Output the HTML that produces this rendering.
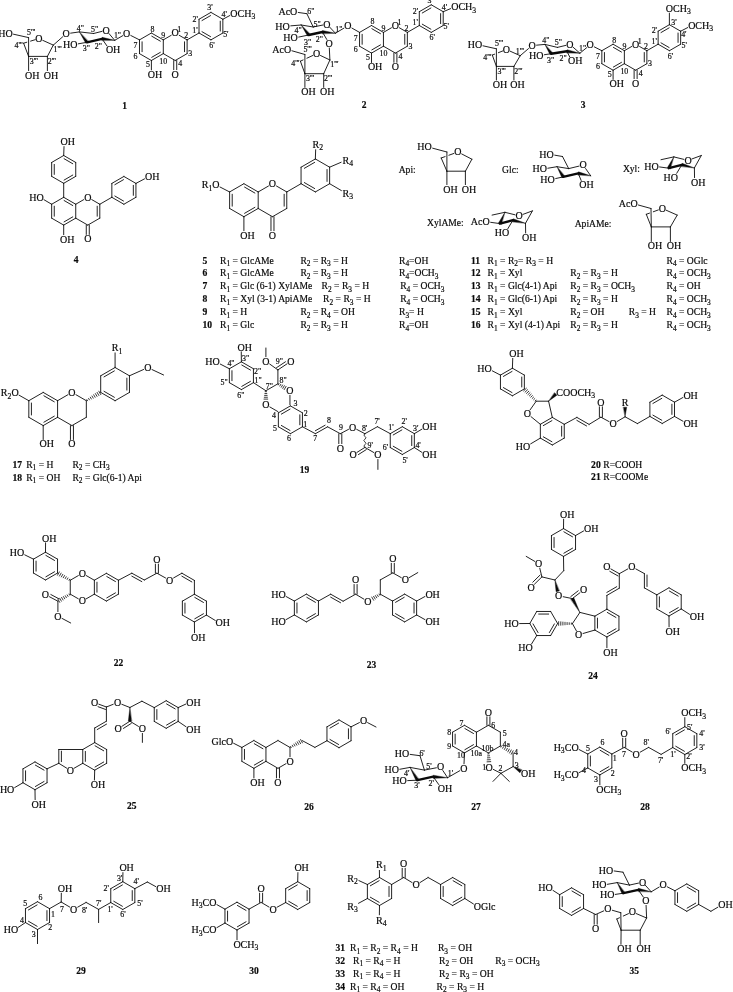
<!DOCTYPE html>
<html><head><meta charset="utf-8"><title>Structures</title>
<style>html,body{margin:0;padding:0;background:#fff;}svg{display:block;filter:grayscale(1);}text{white-space:pre;}</style></head>
<body>
<svg width="733" height="992" viewBox="0 0 733 992" xml:space="preserve" font-family="'Liberation Serif', serif" fill="#0a0a0a" stroke="#0a0a0a" stroke-linecap="round" stroke-width="0.9">
<g stroke="#0a0a0a" stroke-width="0.18">
<text x="171.61" y="36.35" font-size="10.00">O</text>
<text x="171.61" y="77.60" font-size="10.00">O</text>
<text x="150.53" y="31.81" font-size="7.90">8</text>
<text x="161.33" y="38.08" font-size="7.90">9</text>
<text x="159.36" y="63.53" font-size="7.90">10</text>
<text x="146.03" y="67.41" font-size="7.90">5</text>
<text x="133.62" y="58.93" font-size="7.90">6</text>
<text x="133.62" y="48.18" font-size="7.90">7</text>
<text x="177.24" y="32.41" font-size="7.90">1</text>
<text x="184.15" y="38.48" font-size="7.90">2</text>
<text x="188.15" y="56.03" font-size="7.90">3</text>
<text x="178.24" y="66.01" font-size="7.90">4</text>
<text x="147.79" y="77.85" font-size="10.00">OH</text>
<text x="230.27" y="16.73" font-size="10.00">OCH</text><text x="251.39" y="19.23" font-size="7.70">3</text>
<text x="192.35" y="32.61" font-size="7.90">1'</text>
<text x="192.55" y="21.86" font-size="7.90">2'</text>
<text x="207.25" y="10.48" font-size="7.90">3'</text>
<text x="221.46" y="17.46" font-size="7.90">4'</text>
<text x="223.16" y="36.61" font-size="7.90">5'</text>
<text x="209.25" y="47.88" font-size="7.90">6'</text>
<text x="122.33" y="109.20" font-size="9.50" font-weight="bold">1</text>
<text x="123.09" y="36.75" font-size="10.00">O</text>
<text x="102.59" y="33.65" font-size="10.00">O</text>
<text x="62.97" y="47.95" font-size="10.00">HO</text>
<text x="105.89" y="52.95" font-size="10.00">OH</text>
<text x="62.49" y="37.15" font-size="10.00">O</text>
<text x="76.71" y="30.61" font-size="7.90">4"</text>
<text x="91.01" y="31.51" font-size="7.90">5"</text>
<text x="113.91" y="38.31" font-size="7.90">1"</text>
<text x="94.71" y="49.01" font-size="7.90">2"</text>
<text x="82.81" y="51.41" font-size="7.90">3"</text>
<text x="35.29" y="41.95" font-size="10.00">O</text>
<text x="-1.83" y="36.55" font-size="10.00">HO</text>
<text x="24.99" y="78.55" font-size="10.00">OH</text>
<text x="43.79" y="78.55" font-size="10.00">OH</text>
<text x="27.09" y="34.61" font-size="7.90">5'''</text>
<text x="14.49" y="47.71" font-size="7.90">4'''</text>
<text x="29.69" y="63.51" font-size="7.90">3'''</text>
<text x="47.69" y="63.51" font-size="7.90">2'''</text>
<text x="53.59" y="51.91" font-size="7.90">1'''</text>
<text x="391.79" y="28.85" font-size="10.00">O</text>
<text x="391.79" y="70.25" font-size="10.00">O</text>
<text x="370.62" y="24.31" font-size="7.90">8</text>
<text x="381.48" y="30.61" font-size="7.90">9</text>
<text x="379.50" y="56.11" font-size="7.90">10</text>
<text x="366.12" y="60.01" font-size="7.90">5</text>
<text x="353.67" y="51.51" font-size="7.90">6</text>
<text x="353.67" y="40.71" font-size="7.90">7</text>
<text x="397.43" y="24.91" font-size="7.90">1</text>
<text x="404.38" y="31.01" font-size="7.90">2</text>
<text x="408.38" y="48.61" font-size="7.90">3</text>
<text x="398.43" y="58.61" font-size="7.90">4</text>
<text x="367.89" y="70.45" font-size="10.00">OH</text>
<text x="451.20" y="10.25" font-size="10.00">OCH</text><text x="472.31" y="12.75" font-size="7.70">3</text>
<text x="412.62" y="25.11" font-size="7.90">1'</text>
<text x="412.82" y="14.31" font-size="7.90">2'</text>
<text x="427.57" y="3.41" font-size="7.90">3'</text>
<text x="441.82" y="9.91" font-size="7.90">4'</text>
<text x="443.52" y="29.11" font-size="7.90">5'</text>
<text x="429.57" y="40.41" font-size="7.90">6'</text>
<text x="361.73" y="108.30" font-size="9.50" font-weight="bold">2</text>
<text x="344.29" y="29.15" font-size="10.00">O</text>
<text x="323.29" y="27.55" font-size="10.00">O</text>
<text x="278.43" y="15.15" font-size="10.00">AcO</text>
<text x="275.37" y="29.55" font-size="10.00">HO</text>
<text x="283.37" y="41.35" font-size="10.00">HO</text>
<text x="325.49" y="46.75" font-size="10.00">O</text>
<text x="307.31" y="14.31" font-size="7.90">6"</text>
<text x="313.61" y="26.61" font-size="7.90">5"</text>
<text x="335.31" y="32.01" font-size="7.90">1"</text>
<text x="294.61" y="33.01" font-size="7.90">4"</text>
<text x="304.11" y="44.61" font-size="7.90">3"</text>
<text x="315.81" y="42.01" font-size="7.90">2"</text>
<text x="313.09" y="57.05" font-size="10.00">O</text>
<text x="272.23" y="52.85" font-size="10.00">AcO</text>
<text x="301.29" y="95.35" font-size="10.00">OH</text>
<text x="320.09" y="95.35" font-size="10.00">OH</text>
<text x="303.39" y="51.51" font-size="7.90">5'''</text>
<text x="291.29" y="65.71" font-size="7.90">4'''</text>
<text x="305.99" y="80.81" font-size="7.90">3'''</text>
<text x="323.99" y="80.81" font-size="7.90">2'''</text>
<text x="330.19" y="66.81" font-size="7.90">1'''</text>
<text x="632.01" y="47.55" font-size="10.00">O</text>
<text x="632.01" y="86.55" font-size="10.00">O</text>
<text x="612.23" y="43.01" font-size="7.90">8</text>
<text x="622.38" y="48.91" font-size="7.90">9</text>
<text x="620.41" y="73.61" font-size="7.90">10</text>
<text x="607.73" y="77.11" font-size="7.90">5</text>
<text x="595.97" y="69.01" font-size="7.90">6</text>
<text x="595.97" y="59.01" font-size="7.90">7</text>
<text x="637.64" y="43.61" font-size="7.90">1</text>
<text x="643.90" y="49.31" font-size="7.90">2</text>
<text x="647.90" y="66.11" font-size="7.90">3</text>
<text x="638.64" y="75.71" font-size="7.90">4</text>
<text x="609.49" y="87.35" font-size="10.00">OH</text>
<text x="665.78" y="11.85" font-size="10.00">OCH</text><text x="686.90" y="14.35" font-size="7.70">3</text>
<text x="688.14" y="28.85" font-size="10.00">OCH</text><text x="709.25" y="31.35" font-size="7.70">3</text>
<text x="651.45" y="43.81" font-size="7.90">1'</text>
<text x="651.65" y="32.81" font-size="7.90">2'</text>
<text x="671.21" y="24.81" font-size="7.90">3'</text>
<text x="681.16" y="37.31" font-size="7.90">4'</text>
<text x="681.46" y="47.81" font-size="7.90">5'</text>
<text x="667.71" y="58.71" font-size="7.90">6'</text>
<text x="580.73" y="108.20" font-size="9.50" font-weight="bold">3</text>
<text x="586.59" y="48.15" font-size="10.00">O</text>
<text x="566.29" y="47.75" font-size="10.00">O</text>
<text x="529.07" y="58.75" font-size="10.00">HO</text>
<text x="567.99" y="64.15" font-size="10.00">OH</text>
<text x="528.39" y="48.95" font-size="10.00">O</text>
<text x="542.21" y="43.11" font-size="7.90">4"</text>
<text x="554.81" y="45.41" font-size="7.90">5"</text>
<text x="579.11" y="51.21" font-size="7.90">1"</text>
<text x="559.61" y="61.41" font-size="7.90">2"</text>
<text x="547.01" y="62.81" font-size="7.90">3"</text>
<text x="502.79" y="52.85" font-size="10.00">O</text>
<text x="467.67" y="48.15" font-size="10.00">HO</text>
<text x="492.79" y="87.95" font-size="10.00">OH</text>
<text x="510.29" y="87.95" font-size="10.00">OH</text>
<text x="494.89" y="45.81" font-size="7.90">5'''</text>
<text x="483.19" y="59.61" font-size="7.90">4'''</text>
<text x="497.49" y="73.51" font-size="7.90">3'''</text>
<text x="514.19" y="73.51" font-size="7.90">2'''</text>
<text x="515.79" y="53.71" font-size="7.90">1'''</text>
<text x="84.17" y="200.65" font-size="10.00">O</text>
<text x="84.17" y="242.35" font-size="10.00">O</text>
<text x="60.09" y="242.65" font-size="10.00">OH</text>
<text x="29.17" y="200.75" font-size="10.00">HO</text>
<text x="60.59" y="145.35" font-size="10.00">OH</text>
<text x="144.99" y="180.05" font-size="10.00">OH</text>
<text x="73.83" y="262.60" font-size="9.50" font-weight="bold">4</text>
<text x="268.87" y="187.05" font-size="10.00">O</text>
<text x="268.87" y="238.65" font-size="10.00">O</text>
<text x="240.29" y="238.65" font-size="10.00">OH</text>
<text x="201.77" y="188.25" font-size="10.00">R</text><text x="208.44" y="190.75" font-size="7.70">1</text><text x="212.29" y="188.25" font-size="10.00">O</text>
<text x="312.51" y="147.85" font-size="10.00">R</text><text x="319.18" y="150.35" font-size="7.70">2</text>
<text x="342.56" y="163.55" font-size="10.00">R</text><text x="349.24" y="166.05" font-size="7.70">4</text>
<text x="342.56" y="196.55" font-size="10.00">R</text><text x="349.24" y="199.05" font-size="7.70">3</text>
<text x="202.50" y="263.80" font-size="9.60" font-weight="bold">5</text>
<text x="220.00" y="263.80" font-size="9.60">R</text><text x="226.40" y="266.20" font-size="7.39">1</text><text x="232.50" y="263.80" font-size="9.60">= GlcAMe</text>
<text x="300.40" y="263.80" font-size="9.60">R</text><text x="306.80" y="266.20" font-size="7.39">2</text><text x="312.90" y="263.80" font-size="9.60">= R</text><text x="327.12" y="266.20" font-size="7.39">3</text><text x="333.21" y="263.80" font-size="9.60">= H</text>
<text x="399.00" y="263.80" font-size="9.60">R</text><text x="405.40" y="266.20" font-size="7.39">4</text><text x="409.10" y="263.80" font-size="9.60">=OH</text>
<text x="202.50" y="276.40" font-size="9.60" font-weight="bold">6</text>
<text x="220.00" y="276.40" font-size="9.60">R</text><text x="226.40" y="278.80" font-size="7.39">1</text><text x="232.50" y="276.40" font-size="9.60">= GlcAMe</text>
<text x="300.40" y="276.40" font-size="9.60">R</text><text x="306.80" y="278.80" font-size="7.39">2</text><text x="312.90" y="276.40" font-size="9.60">= R</text><text x="327.12" y="278.80" font-size="7.39">3</text><text x="333.21" y="276.40" font-size="9.60">= H</text>
<text x="399.00" y="276.40" font-size="9.60">R</text><text x="405.40" y="278.80" font-size="7.39">4</text><text x="409.10" y="276.40" font-size="9.60">=OCH</text><text x="434.78" y="278.80" font-size="7.39">3</text>
<text x="202.50" y="289.10" font-size="9.60" font-weight="bold">7</text>
<text x="220.00" y="289.10" font-size="9.60">R</text><text x="226.40" y="291.50" font-size="7.39">1</text><text x="232.50" y="289.10" font-size="9.60">= Glc (6-1) XylAMe</text>
<text x="321.60" y="289.10" font-size="9.60">R</text><text x="328.00" y="291.50" font-size="7.39">2</text><text x="334.10" y="289.10" font-size="9.60">= R</text><text x="348.32" y="291.50" font-size="7.39">3</text><text x="354.41" y="289.10" font-size="9.60">= H</text>
<text x="400.20" y="289.10" font-size="9.60">R</text><text x="406.60" y="291.50" font-size="7.39">4</text><text x="412.70" y="289.10" font-size="9.60">= OCH</text><text x="440.78" y="291.50" font-size="7.39">3</text>
<text x="202.50" y="302.10" font-size="9.60" font-weight="bold">8</text>
<text x="220.00" y="302.10" font-size="9.60">R</text><text x="226.40" y="304.50" font-size="7.39">1</text><text x="232.50" y="302.10" font-size="9.60">= Xyl (3-1) ApiAMe</text>
<text x="323.10" y="302.10" font-size="9.60">R</text><text x="329.50" y="304.50" font-size="7.39">2</text><text x="335.60" y="302.10" font-size="9.60">= R</text><text x="349.82" y="304.50" font-size="7.39">3</text><text x="355.91" y="302.10" font-size="9.60">= H</text>
<text x="400.20" y="302.10" font-size="9.60">R</text><text x="406.60" y="304.50" font-size="7.39">4</text><text x="412.70" y="302.10" font-size="9.60">= OCH</text><text x="440.78" y="304.50" font-size="7.39">3</text>
<text x="202.50" y="315.20" font-size="9.60" font-weight="bold">9</text>
<text x="220.00" y="315.20" font-size="9.60">R</text><text x="226.40" y="317.60" font-size="7.39">1</text><text x="232.50" y="315.20" font-size="9.60">= H</text>
<text x="300.40" y="315.20" font-size="9.60">R</text><text x="306.80" y="317.60" font-size="7.39">2</text><text x="312.90" y="315.20" font-size="9.60">= R</text><text x="327.12" y="317.60" font-size="7.39">4</text><text x="333.21" y="315.20" font-size="9.60">= OH</text>
<text x="399.00" y="315.20" font-size="9.60">R</text><text x="405.40" y="317.60" font-size="7.39">3</text><text x="409.10" y="315.20" font-size="9.60">= H</text>
<text x="202.50" y="328.20" font-size="9.60" font-weight="bold">10</text>
<text x="220.00" y="328.20" font-size="9.60">R</text><text x="226.40" y="330.60" font-size="7.39">1</text><text x="232.50" y="328.20" font-size="9.60">= Glc</text>
<text x="300.40" y="328.20" font-size="9.60">R</text><text x="306.80" y="330.60" font-size="7.39">2</text><text x="312.90" y="328.20" font-size="9.60">= R</text><text x="327.12" y="330.60" font-size="7.39">3</text><text x="333.21" y="328.20" font-size="9.60">= H</text>
<text x="399.00" y="328.20" font-size="9.60">R</text><text x="405.40" y="330.60" font-size="7.39">4</text><text x="409.10" y="328.20" font-size="9.60">=OH</text>
<text x="470.90" y="263.80" font-size="9.60" font-weight="bold">11</text>
<text x="487.60" y="263.80" font-size="9.60">R</text><text x="494.00" y="266.20" font-size="7.39">1</text><text x="500.10" y="263.80" font-size="9.60">= R</text><text x="514.32" y="266.20" font-size="7.39">2</text><text x="518.01" y="263.80" font-size="9.60">= R</text><text x="532.23" y="266.20" font-size="7.39">3</text><text x="538.33" y="263.80" font-size="9.60">= H</text>
<text x="666.50" y="263.80" font-size="9.60">R</text><text x="672.90" y="266.20" font-size="7.39">4</text><text x="679.00" y="263.80" font-size="9.60">= OGlc</text>
<text x="470.90" y="276.40" font-size="9.60" font-weight="bold">12</text>
<text x="487.60" y="276.40" font-size="9.60">R</text><text x="494.00" y="278.80" font-size="7.39">1</text><text x="500.10" y="276.40" font-size="9.60">= Xyl</text>
<text x="570.30" y="276.40" font-size="9.60">R</text><text x="576.70" y="278.80" font-size="7.39">2</text><text x="582.80" y="276.40" font-size="9.60">= R</text><text x="597.02" y="278.80" font-size="7.39">3</text><text x="603.11" y="276.40" font-size="9.60">= H</text>
<text x="666.50" y="276.40" font-size="9.60">R</text><text x="672.90" y="278.80" font-size="7.39">4</text><text x="679.00" y="276.40" font-size="9.60">= OCH</text><text x="707.08" y="278.80" font-size="7.39">3</text>
<text x="470.90" y="289.10" font-size="9.60" font-weight="bold">13</text>
<text x="487.60" y="289.10" font-size="9.60">R</text><text x="494.00" y="291.50" font-size="7.39">1</text><text x="500.10" y="289.10" font-size="9.60">= Glc(4-1) Api</text>
<text x="570.30" y="289.10" font-size="9.60">R</text><text x="576.70" y="291.50" font-size="7.39">2</text><text x="582.80" y="289.10" font-size="9.60">= R</text><text x="597.02" y="291.50" font-size="7.39">3</text><text x="603.11" y="289.10" font-size="9.60">= OCH</text><text x="631.20" y="291.50" font-size="7.39">3</text>
<text x="666.50" y="289.10" font-size="9.60">R</text><text x="672.90" y="291.50" font-size="7.39">4</text><text x="679.00" y="289.10" font-size="9.60">= OH</text>
<text x="470.90" y="302.10" font-size="9.60" font-weight="bold">14</text>
<text x="487.60" y="302.10" font-size="9.60">R</text><text x="494.00" y="304.50" font-size="7.39">1</text><text x="500.10" y="302.10" font-size="9.60">= Glc(6-1) Api</text>
<text x="570.30" y="302.10" font-size="9.60">R</text><text x="576.70" y="304.50" font-size="7.39">2</text><text x="582.80" y="302.10" font-size="9.60">= R</text><text x="597.02" y="304.50" font-size="7.39">3</text><text x="603.11" y="302.10" font-size="9.60">= H</text>
<text x="666.50" y="302.10" font-size="9.60">R</text><text x="672.90" y="304.50" font-size="7.39">4</text><text x="679.00" y="302.10" font-size="9.60">= OCH</text><text x="707.08" y="304.50" font-size="7.39">3</text>
<text x="470.90" y="315.20" font-size="9.60" font-weight="bold">15</text>
<text x="487.60" y="315.20" font-size="9.60">R</text><text x="494.00" y="317.60" font-size="7.39">1</text><text x="500.10" y="315.20" font-size="9.60">= Xyl</text>
<text x="570.30" y="315.20" font-size="9.60">R</text><text x="576.70" y="317.60" font-size="7.39">2</text><text x="582.80" y="315.20" font-size="9.60">= OH</text>
<text x="628.80" y="315.20" font-size="9.60">R</text><text x="635.20" y="317.60" font-size="7.39">3</text><text x="641.30" y="315.20" font-size="9.60">= H</text>
<text x="666.50" y="315.20" font-size="9.60">R</text><text x="672.90" y="317.60" font-size="7.39">4</text><text x="679.00" y="315.20" font-size="9.60">= OCH</text><text x="707.08" y="317.60" font-size="7.39">3</text>
<text x="470.90" y="328.20" font-size="9.60" font-weight="bold">16</text>
<text x="487.60" y="328.20" font-size="9.60">R</text><text x="494.00" y="330.60" font-size="7.39">1</text><text x="500.10" y="328.20" font-size="9.60">= Xyl (4-1) Api</text>
<text x="570.30" y="328.20" font-size="9.60">R</text><text x="576.70" y="330.60" font-size="7.39">2</text><text x="582.80" y="328.20" font-size="9.60">= R</text><text x="597.02" y="330.60" font-size="7.39">3</text><text x="603.11" y="328.20" font-size="9.60">= H</text>
<text x="666.50" y="328.20" font-size="9.60">R</text><text x="672.90" y="330.60" font-size="7.39">4</text><text x="679.00" y="328.20" font-size="9.60">= OCH</text><text x="707.08" y="330.60" font-size="7.39">3</text>
<text x="398.70" y="173.20" font-size="9.60">Api:</text>
<text x="454.29" y="155.35" font-size="10.00">O</text>
<text x="417.37" y="150.35" font-size="10.00">HO</text>
<text x="443.29" y="192.55" font-size="10.00">OH</text>
<text x="461.79" y="192.55" font-size="10.00">OH</text>
<text x="574.70" y="227.00" font-size="9.60">ApiAMe:</text>
<text x="658.69" y="211.85" font-size="10.00">O</text>
<text x="618.73" y="207.15" font-size="10.00">AcO</text>
<text x="647.69" y="249.45" font-size="10.00">OH</text>
<text x="666.79" y="249.45" font-size="10.00">OH</text>
<text x="622.90" y="172.20" font-size="9.60">Xyl:</text>
<text x="684.39" y="163.75" font-size="10.00">O</text>
<text x="644.17" y="169.65" font-size="10.00">HO</text>
<text x="663.57" y="180.55" font-size="10.00">HO</text>
<text x="690.99" y="185.55" font-size="10.00">OH</text>
<text x="427.00" y="225.60" font-size="9.60">XylAMe:</text>
<text x="515.49" y="219.15" font-size="10.00">O</text>
<text x="470.83" y="225.05" font-size="10.00">AcO</text>
<text x="494.67" y="235.95" font-size="10.00">HO</text>
<text x="522.09" y="240.95" font-size="10.00">OH</text>
<text x="502.10" y="172.70" font-size="9.60">Glc:</text>
<text x="579.59" y="168.45" font-size="10.00">O</text>
<text x="539.37" y="157.75" font-size="10.00">HO</text>
<text x="532.47" y="172.35" font-size="10.00">HO</text>
<text x="540.37" y="182.85" font-size="10.00">HO</text>
<text x="579.29" y="188.05" font-size="10.00">OH</text>
<text x="68.34" y="395.75" font-size="10.00">O</text>
<text x="68.34" y="447.45" font-size="10.00">O</text>
<text x="39.59" y="447.45" font-size="10.00">OH</text>
<text x="0.87" y="396.25" font-size="10.00">R</text><text x="7.54" y="398.75" font-size="7.70">2</text><text x="11.39" y="396.25" font-size="10.00">O</text>
<text x="111.75" y="351.05" font-size="10.00">R</text><text x="118.42" y="353.55" font-size="7.70">1</text>
<text x="144.19" y="370.95" font-size="10.00">O</text>
<text x="12.50" y="468.00" font-size="9.60" font-weight="bold">17</text>
<text x="26.20" y="468.00" font-size="9.60">R</text><text x="32.60" y="470.40" font-size="7.39">1</text><text x="38.70" y="468.00" font-size="9.60">= H</text>
<text x="72.40" y="468.00" font-size="9.60">R</text><text x="78.80" y="470.40" font-size="7.39">2</text><text x="84.90" y="468.00" font-size="9.60">= CH</text><text x="106.05" y="470.40" font-size="7.39">3</text>
<text x="12.50" y="480.60" font-size="9.60" font-weight="bold">18</text>
<text x="26.20" y="480.60" font-size="9.60">R</text><text x="32.60" y="483.00" font-size="7.39">1</text><text x="38.70" y="480.60" font-size="9.60">= OH</text>
<text x="72.40" y="480.60" font-size="9.60">R</text><text x="78.80" y="483.00" font-size="7.39">2</text><text x="84.90" y="480.60" font-size="9.60">= Glc(6-1) Api</text>
<text x="237.59" y="350.55" font-size="10.00">OH</text>
<text x="205.37" y="365.35" font-size="10.00">HO</text>
<text x="286.33" y="394.10" font-size="10.00">O</text>
<text x="262.25" y="408.00" font-size="10.00">O</text>
<text x="287.29" y="364.65" font-size="10.00">O</text>
<text x="262.29" y="364.65" font-size="10.00">O</text>
<text x="336.69" y="451.55" font-size="10.00">O</text>
<text x="348.99" y="430.55" font-size="10.00">O</text>
<text x="349.39" y="458.25" font-size="10.00">O</text>
<text x="374.29" y="458.25" font-size="10.00">O</text>
<text x="422.29" y="430.15" font-size="10.00">OH</text>
<text x="422.29" y="458.25" font-size="10.00">OH</text>
<text x="242.01" y="360.61" font-size="7.90">3"</text>
<text x="227.41" y="366.31" font-size="7.90">4"</text>
<text x="254.01" y="373.81" font-size="7.90">2"</text>
<text x="254.61" y="382.61" font-size="7.90">1"</text>
<text x="220.61" y="385.01" font-size="7.90">5"</text>
<text x="237.31" y="397.51" font-size="7.90">6"</text>
<text x="265.71" y="388.81" font-size="7.90">7"</text>
<text x="279.61" y="382.61" font-size="7.90">8"</text>
<text x="275.81" y="363.81" font-size="7.90">9"</text>
<text x="293.42" y="406.31" font-size="7.90">3</text>
<text x="303.82" y="415.51" font-size="7.90">2</text>
<text x="272.12" y="418.01" font-size="7.90">4</text>
<text x="272.92" y="431.21" font-size="7.90">5</text>
<text x="287.12" y="440.51" font-size="7.90">6</text>
<text x="303.32" y="426.81" font-size="7.90">1</text>
<text x="313.32" y="441.41" font-size="7.90">7</text>
<text x="327.02" y="423.21" font-size="7.90">8</text>
<text x="339.02" y="430.01" font-size="7.90">9</text>
<text x="361.91" y="430.61" font-size="7.90">8'</text>
<text x="374.41" y="423.81" font-size="7.90">7'</text>
<text x="388.21" y="430.01" font-size="7.90">1'</text>
<text x="401.61" y="423.81" font-size="7.90">2'</text>
<text x="413.11" y="430.61" font-size="7.90">3'</text>
<text x="415.41" y="448.01" font-size="7.90">4'</text>
<text x="402.41" y="462.51" font-size="7.90">5'</text>
<text x="382.71" y="450.01" font-size="7.90">6'</text>
<text x="367.61" y="448.01" font-size="7.90">9'</text>
<text x="299.85" y="473.00" font-size="9.50" font-weight="bold">19</text>
<text x="509.29" y="357.15" font-size="10.00">OH</text>
<text x="477.37" y="372.05" font-size="10.00">HO</text>
<text x="523.79" y="417.05" font-size="10.00">O</text>
<text x="556.30" y="395.80" font-size="10.00">COOCH</text><text x="591.31" y="398.30" font-size="7.70">3</text>
<text x="515.87" y="449.55" font-size="10.00">HO</text>
<text x="597.29" y="405.55" font-size="10.00">O</text>
<text x="609.59" y="427.15" font-size="10.00">O</text>
<text x="621.76" y="405.55" font-size="10.00">R</text>
<text x="683.39" y="398.55" font-size="10.00">OH</text>
<text x="683.39" y="426.85" font-size="10.00">OH</text>
<text x="591.10" y="468.00" font-size="9.60" font-weight="bold">20</text>
<text x="603.30" y="468.00" font-size="9.60">R=COOH</text>
<text x="591.10" y="480.00" font-size="9.60" font-weight="bold">21</text>
<text x="603.30" y="480.00" font-size="9.60">R=COOMe</text>
<text x="41.99" y="541.55" font-size="10.00">OH</text>
<text x="9.77" y="556.15" font-size="10.00">HO</text>
<text x="78.69" y="576.65" font-size="10.00">O</text>
<text x="78.69" y="604.45" font-size="10.00">O</text>
<text x="41.79" y="597.95" font-size="10.00">O</text>
<text x="54.29" y="619.55" font-size="10.00">O</text>
<text x="153.29" y="562.85" font-size="10.00">O</text>
<text x="165.99" y="583.55" font-size="10.00">O</text>
<text x="215.59" y="626.25" font-size="10.00">OH</text>
<text x="190.99" y="640.75" font-size="10.00">OH</text>
<text x="113.85" y="665.60" font-size="9.50" font-weight="bold">22</text>
<text x="271.17" y="597.65" font-size="10.00">HO</text>
<text x="271.17" y="625.25" font-size="10.00">HO</text>
<text x="351.99" y="583.25" font-size="10.00">O</text>
<text x="364.29" y="604.85" font-size="10.00">O</text>
<text x="389.19" y="562.05" font-size="10.00">O</text>
<text x="401.69" y="583.25" font-size="10.00">O</text>
<text x="425.39" y="597.65" font-size="10.00">OH</text>
<text x="425.39" y="625.25" font-size="10.00">OH</text>
<text x="366.85" y="668.00" font-size="9.50" font-weight="bold">23</text>
<text x="560.09" y="517.95" font-size="10.00">OH</text>
<text x="583.99" y="532.05" font-size="10.00">OH</text>
<text x="527.59" y="590.75" font-size="10.00">O</text>
<text x="535.09" y="567.05" font-size="10.00">O</text>
<text x="555.09" y="599.15" font-size="10.00">O</text>
<text x="579.99" y="593.25" font-size="10.00">O</text>
<text x="574.99" y="638.15" font-size="10.00">O</text>
<text x="603.29" y="655.65" font-size="10.00">OH</text>
<text x="504.17" y="626.95" font-size="10.00">HO</text>
<text x="518.37" y="651.15" font-size="10.00">HO</text>
<text x="603.29" y="570.05" font-size="10.00">O</text>
<text x="628.19" y="570.05" font-size="10.00">O</text>
<text x="689.79" y="620.15" font-size="10.00">OH</text>
<text x="665.49" y="634.75" font-size="10.00">OH</text>
<text x="588.15" y="679.00" font-size="9.50" font-weight="bold">24</text>
<text x="-0.13" y="793.25" font-size="10.00">HO</text>
<text x="31.59" y="807.55" font-size="10.00">OH</text>
<text x="66.69" y="773.75" font-size="10.00">O</text>
<text x="90.69" y="787.95" font-size="10.00">OH</text>
<text x="90.89" y="705.95" font-size="10.00">O</text>
<text x="113.89" y="705.95" font-size="10.00">O</text>
<text x="114.39" y="732.15" font-size="10.00">O</text>
<text x="138.79" y="732.15" font-size="10.00">O</text>
<text x="186.29" y="705.55" font-size="10.00">OH</text>
<text x="186.29" y="732.75" font-size="10.00">OH</text>
<text x="127.05" y="809.30" font-size="9.50" font-weight="bold">25</text>
<text x="286.40" y="764.70" font-size="10.00">O</text>
<text x="274.37" y="785.85" font-size="10.00">O</text>
<text x="211.45" y="744.55" font-size="10.00">GlcO</text>
<text x="250.29" y="785.85" font-size="10.00">OH</text>
<text x="359.89" y="723.85" font-size="10.00">O</text>
<text x="304.35" y="810.00" font-size="9.50" font-weight="bold">26</text>
<text x="484.79" y="715.55" font-size="10.00">O</text>
<text x="485.59" y="770.65" font-size="10.00">O</text>
<text x="521.09" y="777.15" font-size="10.00">OH</text>
<text x="460.19" y="771.75" font-size="10.00">O</text>
<text x="436.89" y="770.35" font-size="10.00">O</text>
<text x="394.77" y="757.15" font-size="10.00">HO</text>
<text x="384.47" y="773.45" font-size="10.00">HO</text>
<text x="392.27" y="784.15" font-size="10.00">HO</text>
<text x="437.79" y="791.65" font-size="10.00">OH</text>
<text x="459.52" y="726.01" font-size="7.90">7</text>
<text x="447.32" y="734.81" font-size="7.90">8</text>
<text x="447.32" y="749.21" font-size="7.90">9</text>
<text x="457.05" y="758.01" font-size="7.90">10</text>
<text x="470.50" y="755.81" font-size="7.90">10a</text>
<text x="481.57" y="751.11" font-size="7.90">10b</text>
<text x="491.22" y="728.11" font-size="7.90">6</text>
<text x="502.72" y="736.31" font-size="7.90">5</text>
<text x="502.57" y="746.81" font-size="7.90">4a</text>
<text x="514.02" y="755.31" font-size="7.90">4</text>
<text x="514.82" y="767.61" font-size="7.90">3</text>
<text x="498.42" y="771.21" font-size="7.90">2</text>
<text x="482.32" y="769.91" font-size="7.90">1</text>
<text x="447.71" y="776.31" font-size="7.90">1'</text>
<text x="419.41" y="755.61" font-size="7.90">6'</text>
<text x="426.31" y="769.41" font-size="7.90">5'</text>
<text x="404.11" y="776.11" font-size="7.90">4'</text>
<text x="414.21" y="788.01" font-size="7.90">3'</text>
<text x="428.61" y="785.51" font-size="7.90">2'</text>
<text x="471.35" y="809.80" font-size="9.50" font-weight="bold">27</text>
<text x="553.65" y="750.75" font-size="10.00">H</text><text x="560.87" y="753.25" font-size="7.70">3</text><text x="564.72" y="750.75" font-size="10.00">CO</text>
<text x="553.65" y="778.25" font-size="10.00">H</text><text x="560.87" y="780.75" font-size="7.70">3</text><text x="564.72" y="778.25" font-size="10.00">CO</text>
<text x="596.29" y="792.75" font-size="10.00">OCH</text><text x="617.40" y="795.25" font-size="7.70">3</text>
<text x="620.59" y="736.95" font-size="10.00">O</text>
<text x="632.59" y="757.75" font-size="10.00">O</text>
<text x="681.19" y="716.35" font-size="10.00">OCH</text><text x="702.30" y="718.85" font-size="7.70">3</text>
<text x="681.19" y="771.35" font-size="10.00">OCH</text><text x="702.30" y="773.85" font-size="7.70">3</text>
<text x="600.62" y="745.41" font-size="7.90">6</text>
<text x="586.02" y="751.11" font-size="7.90">5</text>
<text x="581.92" y="772.51" font-size="7.90">4</text>
<text x="594.02" y="782.01" font-size="7.90">3</text>
<text x="610.82" y="775.51" font-size="7.90">2</text>
<text x="612.82" y="761.31" font-size="7.90">1</text>
<text x="621.92" y="757.21" font-size="7.90">7</text>
<text x="643.61" y="745.41" font-size="7.90">8'</text>
<text x="657.91" y="763.21" font-size="7.90">7'</text>
<text x="670.31" y="757.21" font-size="7.90">1'</text>
<text x="665.41" y="733.61" font-size="7.90">6'</text>
<text x="687.01" y="729.61" font-size="7.90">5'</text>
<text x="699.31" y="736.31" font-size="7.90">4'</text>
<text x="699.31" y="750.01" font-size="7.90">3'</text>
<text x="686.21" y="758.81" font-size="7.90">2'</text>
<text x="640.15" y="809.80" font-size="9.50" font-weight="bold">28</text>
<text x="3.67" y="933.25" font-size="10.00">HO</text>
<text x="57.79" y="891.95" font-size="10.00">OH</text>
<text x="70.09" y="912.75" font-size="10.00">O</text>
<text x="119.39" y="871.35" font-size="10.00">OH</text>
<text x="156.19" y="892.15" font-size="10.00">OH</text>
<text x="38.62" y="900.31" font-size="7.90">6</text>
<text x="23.22" y="905.51" font-size="7.90">5</text>
<text x="20.02" y="923.01" font-size="7.90">4</text>
<text x="31.73" y="937.01" font-size="7.90">3</text>
<text x="48.23" y="930.01" font-size="7.90">2</text>
<text x="51.12" y="917.01" font-size="7.90">1</text>
<text x="60.12" y="912.21" font-size="7.90">7</text>
<text x="81.91" y="912.51" font-size="7.90">8'</text>
<text x="96.11" y="906.11" font-size="7.90">7'</text>
<text x="107.41" y="912.21" font-size="7.90">1'</text>
<text x="103.61" y="891.31" font-size="7.90">2'</text>
<text x="116.91" y="881.31" font-size="7.90">3'</text>
<text x="133.61" y="884.41" font-size="7.90">4'</text>
<text x="137.31" y="905.51" font-size="7.90">5'</text>
<text x="120.31" y="917.21" font-size="7.90">6'</text>
<text x="76.35" y="973.80" font-size="9.50" font-weight="bold">29</text>
<text x="191.55" y="905.75" font-size="10.00">H</text><text x="198.77" y="908.25" font-size="7.70">3</text><text x="202.62" y="905.75" font-size="10.00">CO</text>
<text x="191.55" y="933.25" font-size="10.00">H</text><text x="198.77" y="935.75" font-size="7.70">3</text><text x="202.62" y="933.25" font-size="10.00">CO</text>
<text x="233.39" y="947.75" font-size="10.00">OCH</text><text x="254.50" y="950.25" font-size="7.70">3</text>
<text x="257.49" y="891.95" font-size="10.00">O</text>
<text x="269.39" y="912.75" font-size="10.00">O</text>
<text x="294.39" y="871.35" font-size="10.00">OH</text>
<text x="249.35" y="973.80" font-size="9.50" font-weight="bold">30</text>
<text x="375.96" y="868.35" font-size="10.00">R</text><text x="382.64" y="870.85" font-size="7.70">1</text>
<text x="347.26" y="881.55" font-size="10.00">R</text><text x="353.94" y="884.05" font-size="7.70">2</text>
<text x="347.26" y="909.75" font-size="10.00">R</text><text x="353.94" y="912.25" font-size="7.70">3</text>
<text x="375.96" y="923.55" font-size="10.00">R</text><text x="382.64" y="926.05" font-size="7.70">4</text>
<text x="400.09" y="867.05" font-size="10.00">O</text>
<text x="412.49" y="888.35" font-size="10.00">O</text>
<text x="473.69" y="909.75" font-size="10.00">OGlc</text>
<text x="335.50" y="951.10" font-size="9.60" font-weight="bold">31</text>
<text x="350.00" y="951.10" font-size="9.60">R</text><text x="356.40" y="953.50" font-size="7.39">1</text><text x="362.50" y="951.10" font-size="9.60">= R</text><text x="376.72" y="953.50" font-size="7.39">2</text><text x="382.81" y="951.10" font-size="9.60">= R</text><text x="397.03" y="953.50" font-size="7.39">4</text><text x="403.13" y="951.10" font-size="9.60">= H</text>
<text x="437.90" y="951.10" font-size="9.60">R</text><text x="444.30" y="953.50" font-size="7.39">3</text><text x="450.40" y="951.10" font-size="9.60">= OH</text>
<text x="335.50" y="963.60" font-size="9.60" font-weight="bold">32</text>
<text x="353.00" y="963.60" font-size="9.60">R</text><text x="359.40" y="966.00" font-size="7.39">1</text><text x="365.50" y="963.60" font-size="9.60">= R</text><text x="379.72" y="966.00" font-size="7.39">4</text><text x="385.81" y="963.60" font-size="9.60">= H</text>
<text x="439.10" y="963.60" font-size="9.60">R</text><text x="445.50" y="966.00" font-size="7.39">2</text><text x="451.60" y="963.60" font-size="9.60">= OH</text>
<text x="495.30" y="963.60" font-size="9.60">R</text><text x="501.70" y="966.00" font-size="7.39">3</text><text x="507.80" y="963.60" font-size="9.60">= OCH</text><text x="535.88" y="966.00" font-size="7.39">3</text>
<text x="335.50" y="976.80" font-size="9.60" font-weight="bold">33</text>
<text x="353.00" y="976.80" font-size="9.60">R</text><text x="359.40" y="979.20" font-size="7.39">1</text><text x="365.50" y="976.80" font-size="9.60">= R</text><text x="379.72" y="979.20" font-size="7.39">4</text><text x="385.81" y="976.80" font-size="9.60">= H</text>
<text x="439.10" y="976.80" font-size="9.60">R</text><text x="445.50" y="979.20" font-size="7.39">2</text><text x="451.60" y="976.80" font-size="9.60">= R</text><text x="465.82" y="979.20" font-size="7.39">3</text><text x="471.91" y="976.80" font-size="9.60">= OH</text>
<text x="335.50" y="990.00" font-size="9.60" font-weight="bold">34</text>
<text x="350.00" y="990.00" font-size="9.60">R</text><text x="356.40" y="992.40" font-size="7.39">1</text><text x="362.50" y="990.00" font-size="9.60">= R</text><text x="376.72" y="992.40" font-size="7.39">4</text><text x="382.81" y="990.00" font-size="9.60">= OH</text>
<text x="436.60" y="990.00" font-size="9.60">R</text><text x="443.00" y="992.40" font-size="7.39">2</text><text x="449.10" y="990.00" font-size="9.60">= R</text><text x="463.32" y="992.40" font-size="7.39">3</text><text x="469.41" y="990.00" font-size="9.60">= H</text>
<text x="538.27" y="891.25" font-size="10.00">HO</text>
<text x="592.09" y="932.15" font-size="10.00">O</text>
<text x="604.29" y="912.35" font-size="10.00">O</text>
<text x="628.69" y="915.25" font-size="10.00">O</text>
<text x="617.29" y="952.25" font-size="10.00">OH</text>
<text x="636.59" y="952.45" font-size="10.00">OH</text>
<text x="659.49" y="888.05" font-size="10.00">O</text>
<text x="638.99" y="885.55" font-size="10.00">O</text>
<text x="598.77" y="873.65" font-size="10.00">HO</text>
<text x="592.07" y="888.45" font-size="10.00">HO</text>
<text x="599.97" y="898.45" font-size="10.00">HO</text>
<text x="642.29" y="904.15" font-size="10.00">O</text>
<text x="718.19" y="908.25" font-size="10.00">OH</text>
<text x="629.45" y="973.80" font-size="9.50" font-weight="bold">35</text>
</g>
<g>
<line x1="151.40" y1="33.00" x2="163.31" y2="39.88" stroke-width="0.9"/>
<line x1="151.77" y1="36.21" x2="160.34" y2="41.16" stroke-width="0.9"/>
<line x1="163.31" y1="39.88" x2="163.31" y2="53.62" stroke-width="0.9"/>
<line x1="163.31" y1="53.62" x2="151.40" y2="60.50" stroke-width="0.9"/>
<line x1="160.34" y1="52.34" x2="151.77" y2="57.29" stroke-width="0.9"/>
<line x1="151.40" y1="60.50" x2="139.49" y2="53.62" stroke-width="0.9"/>
<line x1="139.49" y1="53.62" x2="139.49" y2="39.88" stroke-width="0.9"/>
<line x1="142.09" y1="51.70" x2="142.09" y2="41.80" stroke-width="0.9"/>
<line x1="139.49" y1="39.88" x2="151.40" y2="33.00" stroke-width="0.9"/>
<line x1="163.31" y1="39.88" x2="171.23" y2="35.30" stroke-width="0.9"/>
<line x1="179.20" y1="35.30" x2="187.12" y2="39.88" stroke-width="0.9"/>
<line x1="187.12" y1="39.88" x2="187.12" y2="53.62" stroke-width="0.9"/>
<line x1="184.52" y1="41.80" x2="184.52" y2="51.70" stroke-width="0.9"/>
<line x1="187.12" y1="53.62" x2="175.22" y2="60.50" stroke-width="0.9"/>
<line x1="175.22" y1="60.50" x2="163.31" y2="53.62" stroke-width="0.9"/>
<line x1="173.72" y1="60.50" x2="173.72" y2="69.65" stroke-width="0.9"/>
<line x1="176.72" y1="60.50" x2="176.72" y2="69.65" stroke-width="0.9"/>
<line x1="151.40" y1="60.50" x2="151.40" y2="69.90" stroke-width="0.9"/>
<line x1="187.12" y1="39.88" x2="199.03" y2="33.00" stroke-width="0.9"/>
<line x1="210.94" y1="12.38" x2="222.85" y2="19.25" stroke-width="0.9"/>
<line x1="222.85" y1="19.25" x2="222.85" y2="33.00" stroke-width="0.9"/>
<line x1="220.25" y1="21.18" x2="220.25" y2="31.07" stroke-width="0.9"/>
<line x1="222.85" y1="33.00" x2="210.94" y2="39.88" stroke-width="0.9"/>
<line x1="210.94" y1="39.88" x2="199.03" y2="33.00" stroke-width="0.9"/>
<line x1="210.57" y1="36.66" x2="202.00" y2="31.71" stroke-width="0.9"/>
<line x1="199.03" y1="33.00" x2="199.03" y2="19.25" stroke-width="0.9"/>
<line x1="199.03" y1="19.25" x2="210.94" y2="12.38" stroke-width="0.9"/>
<line x1="202.00" y1="20.54" x2="210.57" y2="15.59" stroke-width="0.9"/>
<line x1="222.85" y1="19.25" x2="229.82" y2="15.54" stroke-width="0.9"/>
<line x1="139.49" y1="39.88" x2="130.80" y2="35.48" stroke-width="0.9"/>
<line x1="122.71" y1="35.69" x2="114.70" y2="40.30" stroke-width="0.9"/>
<line x1="114.70" y1="40.30" x2="108.92" y2="33.50" stroke-width="0.9"/>
<line x1="102.13" y1="31.33" x2="93.60" y2="33.50" stroke-width="0.9"/>
<line x1="93.60" y1="33.50" x2="79.40" y2="31.90" stroke-width="0.9"/>
<polygon points="79.40,31.90 85.79,43.19 88.21,41.41" fill="#0a0a0a" stroke-width="0.4"/>
<line x1="87.00" y1="42.30" x2="102.00" y2="38.80" stroke-width="2.4"/>
<polygon points="114.70,40.30 102.18,37.31 101.82,40.29" fill="#0a0a0a" stroke-width="0.4"/>
<line x1="87.00" y1="42.30" x2="78.33" y2="43.81" stroke-width="0.9"/>
<line x1="102.00" y1="38.80" x2="106.88" y2="45.82" stroke-width="0.9"/>
<line x1="79.40" y1="31.90" x2="70.65" y2="33.15" stroke-width="0.9"/>
<line x1="28.60" y1="56.40" x2="47.40" y2="56.40" stroke-width="0.9"/>
<line x1="47.40" y1="56.40" x2="53.30" y2="45.10" stroke-width="0.9"/>
<line x1="53.30" y1="45.10" x2="42.73" y2="40.33" stroke-width="0.9"/>
<line x1="28.60" y1="56.40" x2="23.60" y2="43.20" stroke-width="0.9"/>
<line x1="28.60" y1="56.40" x2="28.60" y2="37.60" stroke-width="0.9"/>
<line x1="23.60" y1="43.20" x2="26.80" y2="42.24" stroke-width="0.9"/>
<line x1="30.60" y1="41.10" x2="35.17" y2="39.72" stroke-width="0.9"/>
<line x1="28.60" y1="37.60" x2="13.49" y2="34.21" stroke-width="0.9"/>
<line x1="28.60" y1="56.40" x2="28.60" y2="70.60" stroke-width="0.9"/>
<line x1="47.40" y1="56.40" x2="47.40" y2="70.60" stroke-width="0.9"/>
<line x1="53.30" y1="45.10" x2="62.65" y2="36.84" stroke-width="0.9"/>
<line x1="371.50" y1="25.50" x2="383.45" y2="32.40" stroke-width="0.9"/>
<line x1="371.87" y1="28.72" x2="380.48" y2="33.69" stroke-width="0.9"/>
<line x1="383.45" y1="32.40" x2="383.45" y2="46.20" stroke-width="0.9"/>
<line x1="383.45" y1="46.20" x2="371.50" y2="53.10" stroke-width="0.9"/>
<line x1="380.48" y1="44.91" x2="371.87" y2="49.88" stroke-width="0.9"/>
<line x1="371.50" y1="53.10" x2="359.55" y2="46.20" stroke-width="0.9"/>
<line x1="359.55" y1="46.20" x2="359.55" y2="32.40" stroke-width="0.9"/>
<line x1="362.15" y1="44.27" x2="362.15" y2="34.33" stroke-width="0.9"/>
<line x1="359.55" y1="32.40" x2="371.50" y2="25.50" stroke-width="0.9"/>
<line x1="383.45" y1="32.40" x2="391.42" y2="27.80" stroke-width="0.9"/>
<line x1="399.39" y1="27.80" x2="407.35" y2="32.40" stroke-width="0.9"/>
<line x1="407.35" y1="32.40" x2="407.35" y2="46.20" stroke-width="0.9"/>
<line x1="404.75" y1="34.33" x2="404.75" y2="44.27" stroke-width="0.9"/>
<line x1="407.35" y1="46.20" x2="395.40" y2="53.10" stroke-width="0.9"/>
<line x1="395.40" y1="53.10" x2="383.45" y2="46.20" stroke-width="0.9"/>
<line x1="393.90" y1="53.10" x2="393.90" y2="62.30" stroke-width="0.9"/>
<line x1="396.90" y1="53.10" x2="396.90" y2="62.30" stroke-width="0.9"/>
<line x1="371.50" y1="53.10" x2="371.50" y2="62.50" stroke-width="0.9"/>
<line x1="407.35" y1="32.40" x2="419.31" y2="25.50" stroke-width="0.9"/>
<line x1="431.26" y1="4.80" x2="443.21" y2="11.70" stroke-width="0.9"/>
<line x1="443.21" y1="11.70" x2="443.21" y2="25.50" stroke-width="0.9"/>
<line x1="440.61" y1="13.63" x2="440.61" y2="23.57" stroke-width="0.9"/>
<line x1="443.21" y1="25.50" x2="431.26" y2="32.40" stroke-width="0.9"/>
<line x1="431.26" y1="32.40" x2="419.30" y2="25.50" stroke-width="0.9"/>
<line x1="430.88" y1="29.18" x2="422.28" y2="24.21" stroke-width="0.9"/>
<line x1="419.30" y1="25.50" x2="419.30" y2="11.70" stroke-width="0.9"/>
<line x1="419.30" y1="11.70" x2="431.26" y2="4.80" stroke-width="0.9"/>
<line x1="422.28" y1="12.99" x2="430.88" y2="8.02" stroke-width="0.9"/>
<line x1="443.21" y1="11.70" x2="450.56" y2="8.66" stroke-width="0.9"/>
<line x1="359.55" y1="32.40" x2="351.90" y2="28.07" stroke-width="0.9"/>
<line x1="343.94" y1="28.14" x2="335.40" y2="33.20" stroke-width="0.9"/>
<line x1="335.40" y1="33.20" x2="329.78" y2="27.25" stroke-width="0.9"/>
<line x1="322.79" y1="25.04" x2="313.20" y2="27.00" stroke-width="0.9"/>
<line x1="313.20" y1="27.00" x2="301.20" y2="25.00" stroke-width="0.9"/>
<line x1="313.20" y1="27.00" x2="306.90" y2="13.70" stroke-width="0.9"/>
<polygon points="301.20,25.00 307.50,35.90 309.90,34.10" fill="#0a0a0a" stroke-width="0.4"/>
<line x1="308.70" y1="35.00" x2="322.40" y2="32.00" stroke-width="2.4"/>
<polygon points="335.40,33.20 322.54,30.51 322.26,33.49" fill="#0a0a0a" stroke-width="0.4"/>
<line x1="306.90" y1="13.70" x2="298.25" y2="12.46" stroke-width="0.9"/>
<line x1="301.20" y1="25.00" x2="290.79" y2="25.83" stroke-width="0.9"/>
<line x1="308.70" y1="35.00" x2="298.70" y2="37.07" stroke-width="0.9"/>
<line x1="322.40" y1="32.00" x2="326.77" y2="39.43" stroke-width="0.9"/>
<line x1="304.90" y1="73.70" x2="323.70" y2="73.70" stroke-width="0.9"/>
<line x1="323.70" y1="73.70" x2="329.90" y2="60.00" stroke-width="0.9"/>
<line x1="329.90" y1="60.00" x2="320.49" y2="55.51" stroke-width="0.9"/>
<line x1="304.90" y1="73.70" x2="300.40" y2="61.20" stroke-width="0.9"/>
<line x1="304.90" y1="73.70" x2="304.90" y2="54.50" stroke-width="0.9"/>
<line x1="300.40" y1="61.20" x2="303.10" y2="59.96" stroke-width="0.9"/>
<line x1="306.90" y1="58.21" x2="312.88" y2="55.46" stroke-width="0.9"/>
<line x1="304.90" y1="54.50" x2="291.92" y2="50.77" stroke-width="0.9"/>
<line x1="304.90" y1="73.70" x2="304.90" y2="87.40" stroke-width="0.9"/>
<line x1="323.70" y1="73.70" x2="323.70" y2="87.40" stroke-width="0.9"/>
<line x1="329.90" y1="60.00" x2="329.32" y2="47.99" stroke-width="0.9"/>
<line x1="613.10" y1="44.20" x2="624.36" y2="50.70" stroke-width="0.9"/>
<line x1="613.38" y1="47.36" x2="621.48" y2="52.04" stroke-width="0.9"/>
<line x1="624.36" y1="50.70" x2="624.36" y2="63.70" stroke-width="0.9"/>
<line x1="624.36" y1="63.70" x2="613.10" y2="70.20" stroke-width="0.9"/>
<line x1="621.48" y1="62.36" x2="613.38" y2="67.04" stroke-width="0.9"/>
<line x1="613.10" y1="70.20" x2="601.84" y2="63.70" stroke-width="0.9"/>
<line x1="601.84" y1="63.70" x2="601.84" y2="50.70" stroke-width="0.9"/>
<line x1="604.44" y1="61.88" x2="604.44" y2="52.52" stroke-width="0.9"/>
<line x1="601.84" y1="50.70" x2="613.10" y2="44.20" stroke-width="0.9"/>
<line x1="624.36" y1="50.70" x2="631.63" y2="46.50" stroke-width="0.9"/>
<line x1="639.60" y1="46.50" x2="646.88" y2="50.70" stroke-width="0.9"/>
<line x1="646.88" y1="50.70" x2="646.88" y2="63.70" stroke-width="0.9"/>
<line x1="644.28" y1="52.52" x2="644.28" y2="61.88" stroke-width="0.9"/>
<line x1="646.88" y1="63.70" x2="635.62" y2="70.20" stroke-width="0.9"/>
<line x1="635.62" y1="70.20" x2="624.36" y2="63.70" stroke-width="0.9"/>
<line x1="634.12" y1="70.20" x2="634.12" y2="78.60" stroke-width="0.9"/>
<line x1="637.12" y1="70.20" x2="637.12" y2="78.60" stroke-width="0.9"/>
<line x1="613.10" y1="70.20" x2="613.10" y2="79.40" stroke-width="0.9"/>
<line x1="646.88" y1="50.70" x2="658.13" y2="44.20" stroke-width="0.9"/>
<line x1="669.39" y1="24.70" x2="680.65" y2="31.20" stroke-width="0.9"/>
<line x1="680.65" y1="31.20" x2="680.65" y2="44.20" stroke-width="0.9"/>
<line x1="678.05" y1="33.02" x2="678.05" y2="42.38" stroke-width="0.9"/>
<line x1="680.65" y1="44.20" x2="669.39" y2="50.70" stroke-width="0.9"/>
<line x1="669.39" y1="50.70" x2="658.13" y2="44.20" stroke-width="0.9"/>
<line x1="669.12" y1="47.54" x2="661.01" y2="42.86" stroke-width="0.9"/>
<line x1="658.13" y1="44.20" x2="658.13" y2="31.20" stroke-width="0.9"/>
<line x1="658.13" y1="31.20" x2="669.39" y2="24.70" stroke-width="0.9"/>
<line x1="661.01" y1="32.54" x2="669.12" y2="27.86" stroke-width="0.9"/>
<line x1="669.39" y1="24.70" x2="669.39" y2="13.10" stroke-width="0.9"/>
<line x1="680.65" y1="31.20" x2="687.66" y2="27.60" stroke-width="0.9"/>
<line x1="601.84" y1="50.70" x2="594.30" y2="46.88" stroke-width="0.9"/>
<line x1="586.64" y1="47.71" x2="579.90" y2="53.20" stroke-width="0.9"/>
<line x1="579.90" y1="53.20" x2="573.05" y2="47.17" stroke-width="0.9"/>
<line x1="565.82" y1="45.38" x2="557.40" y2="47.40" stroke-width="0.9"/>
<line x1="557.40" y1="47.40" x2="544.90" y2="44.40" stroke-width="0.9"/>
<polygon points="544.90,44.40 549.96,54.54 552.44,52.86" fill="#0a0a0a" stroke-width="0.4"/>
<line x1="551.20" y1="53.70" x2="566.90" y2="51.20" stroke-width="2.4"/>
<polygon points="579.90,53.20 567.13,49.72 566.67,52.68" fill="#0a0a0a" stroke-width="0.4"/>
<line x1="551.20" y1="53.70" x2="544.45" y2="54.72" stroke-width="0.9"/>
<line x1="566.90" y1="51.20" x2="569.58" y2="56.67" stroke-width="0.9"/>
<line x1="544.90" y1="44.40" x2="536.58" y2="45.17" stroke-width="0.9"/>
<line x1="496.40" y1="66.40" x2="513.90" y2="66.40" stroke-width="0.9"/>
<line x1="513.90" y1="66.40" x2="520.20" y2="55.70" stroke-width="0.9"/>
<line x1="520.20" y1="55.70" x2="510.23" y2="51.22" stroke-width="0.9"/>
<line x1="496.40" y1="66.40" x2="492.30" y2="55.10" stroke-width="0.9"/>
<line x1="496.40" y1="66.40" x2="496.40" y2="48.80" stroke-width="0.9"/>
<line x1="492.30" y1="55.10" x2="494.60" y2="54.19" stroke-width="0.9"/>
<line x1="498.40" y1="52.68" x2="502.80" y2="50.93" stroke-width="0.9"/>
<line x1="496.40" y1="48.80" x2="482.99" y2="45.80" stroke-width="0.9"/>
<line x1="496.40" y1="66.40" x2="496.40" y2="80.00" stroke-width="0.9"/>
<line x1="513.90" y1="66.40" x2="513.90" y2="80.00" stroke-width="0.9"/>
<line x1="520.20" y1="55.70" x2="528.51" y2="48.59" stroke-width="0.9"/>
<line x1="63.70" y1="197.30" x2="75.74" y2="204.25" stroke-width="0.9"/>
<line x1="64.09" y1="200.52" x2="72.75" y2="205.53" stroke-width="0.9"/>
<line x1="75.74" y1="204.25" x2="75.74" y2="218.15" stroke-width="0.9"/>
<line x1="75.74" y1="218.15" x2="63.70" y2="225.10" stroke-width="0.9"/>
<line x1="72.75" y1="216.87" x2="64.09" y2="221.88" stroke-width="0.9"/>
<line x1="63.70" y1="225.10" x2="51.66" y2="218.15" stroke-width="0.9"/>
<line x1="51.66" y1="218.15" x2="51.66" y2="204.25" stroke-width="0.9"/>
<line x1="54.26" y1="216.20" x2="54.26" y2="206.20" stroke-width="0.9"/>
<line x1="51.66" y1="204.25" x2="63.70" y2="197.30" stroke-width="0.9"/>
<line x1="75.74" y1="204.25" x2="83.79" y2="199.60" stroke-width="0.9"/>
<line x1="91.76" y1="199.60" x2="99.81" y2="204.25" stroke-width="0.9"/>
<line x1="99.81" y1="204.25" x2="99.81" y2="218.15" stroke-width="0.9"/>
<line x1="97.21" y1="206.20" x2="97.21" y2="216.20" stroke-width="0.9"/>
<line x1="99.81" y1="218.15" x2="87.78" y2="225.10" stroke-width="0.9"/>
<line x1="87.78" y1="225.10" x2="75.74" y2="218.15" stroke-width="0.9"/>
<line x1="86.28" y1="225.10" x2="86.28" y2="234.40" stroke-width="0.9"/>
<line x1="89.28" y1="225.10" x2="89.28" y2="234.40" stroke-width="0.9"/>
<line x1="63.70" y1="225.10" x2="63.70" y2="234.70" stroke-width="0.9"/>
<line x1="51.66" y1="204.25" x2="43.97" y2="199.73" stroke-width="0.9"/>
<line x1="63.70" y1="197.30" x2="63.70" y2="183.30" stroke-width="0.9"/>
<line x1="63.70" y1="155.50" x2="75.74" y2="162.45" stroke-width="0.9"/>
<line x1="64.09" y1="158.72" x2="72.75" y2="163.73" stroke-width="0.9"/>
<line x1="75.74" y1="162.45" x2="75.74" y2="176.35" stroke-width="0.9"/>
<line x1="75.74" y1="176.35" x2="63.70" y2="183.30" stroke-width="0.9"/>
<line x1="72.75" y1="175.07" x2="64.09" y2="180.08" stroke-width="0.9"/>
<line x1="63.70" y1="183.30" x2="51.66" y2="176.35" stroke-width="0.9"/>
<line x1="51.66" y1="176.35" x2="51.66" y2="162.45" stroke-width="0.9"/>
<line x1="54.26" y1="174.40" x2="54.26" y2="164.40" stroke-width="0.9"/>
<line x1="51.66" y1="162.45" x2="63.70" y2="155.50" stroke-width="0.9"/>
<line x1="63.70" y1="155.50" x2="64.03" y2="146.60" stroke-width="0.9"/>
<line x1="99.81" y1="204.25" x2="111.85" y2="197.30" stroke-width="0.9"/>
<line x1="123.89" y1="176.45" x2="135.93" y2="183.40" stroke-width="0.9"/>
<line x1="135.93" y1="183.40" x2="135.93" y2="197.30" stroke-width="0.9"/>
<line x1="133.33" y1="185.35" x2="133.33" y2="195.35" stroke-width="0.9"/>
<line x1="135.93" y1="197.30" x2="123.89" y2="204.25" stroke-width="0.9"/>
<line x1="123.89" y1="204.25" x2="111.85" y2="197.30" stroke-width="0.9"/>
<line x1="123.50" y1="201.03" x2="114.84" y2="196.02" stroke-width="0.9"/>
<line x1="111.85" y1="197.30" x2="111.85" y2="183.40" stroke-width="0.9"/>
<line x1="111.85" y1="183.40" x2="123.89" y2="176.45" stroke-width="0.9"/>
<line x1="114.84" y1="184.68" x2="123.50" y2="179.67" stroke-width="0.9"/>
<line x1="135.93" y1="183.40" x2="144.53" y2="178.85" stroke-width="0.9"/>
<line x1="243.90" y1="183.70" x2="258.19" y2="191.95" stroke-width="0.9"/>
<line x1="244.60" y1="187.11" x2="254.89" y2="193.05" stroke-width="0.9"/>
<line x1="258.19" y1="191.95" x2="258.19" y2="208.45" stroke-width="0.9"/>
<line x1="258.19" y1="208.45" x2="243.90" y2="216.70" stroke-width="0.9"/>
<line x1="254.89" y1="207.35" x2="244.60" y2="213.29" stroke-width="0.9"/>
<line x1="243.90" y1="216.70" x2="229.61" y2="208.45" stroke-width="0.9"/>
<line x1="229.61" y1="208.45" x2="229.61" y2="191.95" stroke-width="0.9"/>
<line x1="232.21" y1="206.14" x2="232.21" y2="194.26" stroke-width="0.9"/>
<line x1="229.61" y1="191.95" x2="243.90" y2="183.70" stroke-width="0.9"/>
<line x1="258.19" y1="191.95" x2="268.50" y2="186.00" stroke-width="0.9"/>
<line x1="276.46" y1="186.00" x2="286.77" y2="191.95" stroke-width="0.9"/>
<line x1="286.77" y1="191.95" x2="286.77" y2="208.45" stroke-width="0.9"/>
<line x1="284.17" y1="194.26" x2="284.17" y2="206.14" stroke-width="0.9"/>
<line x1="286.77" y1="208.45" x2="272.48" y2="216.70" stroke-width="0.9"/>
<line x1="272.48" y1="216.70" x2="258.19" y2="208.45" stroke-width="0.9"/>
<line x1="270.98" y1="216.70" x2="270.98" y2="230.70" stroke-width="0.9"/>
<line x1="273.98" y1="216.70" x2="273.98" y2="230.70" stroke-width="0.9"/>
<line x1="243.90" y1="216.70" x2="243.90" y2="230.70" stroke-width="0.9"/>
<line x1="229.61" y1="191.95" x2="219.99" y2="187.00" stroke-width="0.9"/>
<line x1="286.77" y1="191.95" x2="301.06" y2="183.70" stroke-width="0.9"/>
<line x1="315.35" y1="158.95" x2="329.64" y2="167.20" stroke-width="0.9"/>
<line x1="329.64" y1="167.20" x2="329.64" y2="183.70" stroke-width="0.9"/>
<line x1="327.04" y1="169.51" x2="327.04" y2="181.39" stroke-width="0.9"/>
<line x1="329.64" y1="183.70" x2="315.35" y2="191.95" stroke-width="0.9"/>
<line x1="315.35" y1="191.95" x2="301.06" y2="183.70" stroke-width="0.9"/>
<line x1="314.65" y1="188.54" x2="304.36" y2="182.60" stroke-width="0.9"/>
<line x1="301.06" y1="183.70" x2="301.06" y2="167.20" stroke-width="0.9"/>
<line x1="301.06" y1="167.20" x2="315.35" y2="158.95" stroke-width="0.9"/>
<line x1="304.36" y1="168.30" x2="314.65" y2="162.36" stroke-width="0.9"/>
<line x1="315.35" y1="158.95" x2="315.67" y2="149.70" stroke-width="0.9"/>
<line x1="329.64" y1="167.20" x2="341.12" y2="162.26" stroke-width="0.9"/>
<line x1="329.64" y1="183.70" x2="341.41" y2="190.58" stroke-width="0.9"/>
<line x1="446.90" y1="171.20" x2="465.40" y2="171.20" stroke-width="0.9"/>
<line x1="465.40" y1="171.20" x2="471.90" y2="159.20" stroke-width="0.9"/>
<line x1="471.90" y1="159.20" x2="461.64" y2="153.92" stroke-width="0.9"/>
<line x1="446.90" y1="171.20" x2="441.20" y2="158.00" stroke-width="0.9"/>
<line x1="446.90" y1="171.20" x2="446.90" y2="152.00" stroke-width="0.9"/>
<line x1="441.20" y1="158.00" x2="445.10" y2="156.60" stroke-width="0.9"/>
<line x1="448.90" y1="155.23" x2="453.95" y2="153.42" stroke-width="0.9"/>
<line x1="446.90" y1="152.00" x2="432.64" y2="148.19" stroke-width="0.9"/>
<line x1="446.90" y1="171.20" x2="446.90" y2="184.60" stroke-width="0.9"/>
<line x1="465.40" y1="171.20" x2="465.40" y2="184.60" stroke-width="0.9"/>
<line x1="651.30" y1="226.90" x2="670.40" y2="226.90" stroke-width="0.9"/>
<line x1="670.40" y1="226.90" x2="677.20" y2="215.10" stroke-width="0.9"/>
<line x1="677.20" y1="215.10" x2="666.14" y2="210.20" stroke-width="0.9"/>
<line x1="651.30" y1="226.90" x2="646.30" y2="214.30" stroke-width="0.9"/>
<line x1="651.30" y1="226.90" x2="651.00" y2="208.50" stroke-width="0.9"/>
<line x1="646.30" y1="214.30" x2="649.50" y2="213.14" stroke-width="0.9"/>
<line x1="653.30" y1="211.76" x2="658.35" y2="209.93" stroke-width="0.9"/>
<line x1="651.00" y1="208.50" x2="638.43" y2="205.03" stroke-width="0.9"/>
<line x1="651.30" y1="226.90" x2="651.30" y2="241.50" stroke-width="0.9"/>
<line x1="670.40" y1="226.90" x2="670.40" y2="241.50" stroke-width="0.9"/>
<line x1="661.00" y1="159.70" x2="673.80" y2="156.90" stroke-width="0.9"/>
<line x1="673.80" y1="156.90" x2="683.92" y2="159.39" stroke-width="0.9"/>
<line x1="691.94" y1="158.95" x2="701.30" y2="155.50" stroke-width="0.9"/>
<line x1="701.30" y1="155.50" x2="694.40" y2="167.90" stroke-width="0.9"/>
<polygon points="673.80,156.90 667.43,167.59 670.17,168.81" fill="#0a0a0a" stroke-width="0.4"/>
<line x1="668.80" y1="168.20" x2="681.80" y2="164.80" stroke-width="2.4"/>
<polygon points="694.40,167.90 682.16,163.34 681.44,166.26" fill="#0a0a0a" stroke-width="0.4"/>
<line x1="668.80" y1="168.20" x2="659.56" y2="166.93" stroke-width="0.9"/>
<line x1="681.80" y1="164.80" x2="676.76" y2="173.25" stroke-width="0.9"/>
<line x1="694.40" y1="167.90" x2="694.54" y2="177.60" stroke-width="0.9"/>
<line x1="492.10" y1="215.10" x2="504.90" y2="212.30" stroke-width="0.9"/>
<line x1="504.90" y1="212.30" x2="515.02" y2="214.79" stroke-width="0.9"/>
<line x1="523.04" y1="214.35" x2="532.40" y2="210.90" stroke-width="0.9"/>
<line x1="532.40" y1="210.90" x2="525.50" y2="223.30" stroke-width="0.9"/>
<polygon points="504.90,212.30 498.53,222.99 501.27,224.21" fill="#0a0a0a" stroke-width="0.4"/>
<line x1="499.90" y1="223.60" x2="512.90" y2="220.20" stroke-width="2.4"/>
<polygon points="525.50,223.30 513.26,218.74 512.54,221.66" fill="#0a0a0a" stroke-width="0.4"/>
<line x1="499.90" y1="223.60" x2="490.66" y2="222.33" stroke-width="0.9"/>
<line x1="512.90" y1="220.20" x2="507.86" y2="228.65" stroke-width="0.9"/>
<line x1="525.50" y1="223.30" x2="525.64" y2="233.00" stroke-width="0.9"/>
<line x1="557.00" y1="166.70" x2="568.70" y2="168.60" stroke-width="0.9"/>
<line x1="568.70" y1="168.60" x2="579.12" y2="166.09" stroke-width="0.9"/>
<line x1="585.61" y1="168.54" x2="590.70" y2="175.80" stroke-width="0.9"/>
<line x1="568.70" y1="168.60" x2="562.50" y2="156.50" stroke-width="0.9"/>
<polygon points="590.70,175.80 578.49,171.83 577.91,174.77" fill="#0a0a0a" stroke-width="0.4"/>
<line x1="578.20" y1="173.30" x2="563.20" y2="176.90" stroke-width="2.4"/>
<polygon points="557.00,166.70 561.92,177.68 564.48,176.12" fill="#0a0a0a" stroke-width="0.4"/>
<line x1="562.50" y1="156.50" x2="554.73" y2="155.17" stroke-width="0.9"/>
<line x1="557.00" y1="166.70" x2="547.84" y2="168.24" stroke-width="0.9"/>
<line x1="563.20" y1="176.90" x2="555.70" y2="178.53" stroke-width="0.9"/>
<line x1="578.20" y1="173.30" x2="581.15" y2="180.45" stroke-width="0.9"/>
<line x1="43.20" y1="392.40" x2="57.58" y2="400.70" stroke-width="0.9"/>
<line x1="43.91" y1="395.81" x2="54.26" y2="401.79" stroke-width="0.9"/>
<line x1="57.58" y1="400.70" x2="57.58" y2="417.30" stroke-width="0.9"/>
<line x1="57.58" y1="417.30" x2="43.20" y2="425.60" stroke-width="0.9"/>
<line x1="54.26" y1="416.21" x2="43.91" y2="422.19" stroke-width="0.9"/>
<line x1="43.20" y1="425.60" x2="28.82" y2="417.30" stroke-width="0.9"/>
<line x1="28.82" y1="417.30" x2="28.82" y2="400.70" stroke-width="0.9"/>
<line x1="31.42" y1="414.98" x2="31.42" y2="403.02" stroke-width="0.9"/>
<line x1="28.82" y1="400.70" x2="43.20" y2="392.40" stroke-width="0.9"/>
<line x1="57.58" y1="400.70" x2="67.97" y2="394.70" stroke-width="0.9"/>
<line x1="75.94" y1="394.70" x2="86.33" y2="400.70" stroke-width="0.9"/>
<line x1="86.33" y1="400.70" x2="86.33" y2="417.30" stroke-width="0.9"/>
<line x1="86.33" y1="417.30" x2="71.95" y2="425.60" stroke-width="0.9"/>
<line x1="71.95" y1="425.60" x2="57.58" y2="417.30" stroke-width="0.9"/>
<line x1="70.45" y1="425.60" x2="70.45" y2="439.50" stroke-width="0.9"/>
<line x1="73.45" y1="425.60" x2="73.45" y2="439.50" stroke-width="0.9"/>
<line x1="43.20" y1="425.60" x2="43.20" y2="439.50" stroke-width="0.9"/>
<line x1="28.82" y1="400.70" x2="19.01" y2="395.16" stroke-width="0.9"/>
<line x1="87.55" y1="400.74" x2="86.90" y2="399.62" stroke-width="0.8"/>
<line x1="89.44" y1="399.87" x2="88.60" y2="398.42" stroke-width="0.8"/>
<line x1="91.34" y1="399.00" x2="90.30" y2="397.21" stroke-width="0.8"/>
<line x1="93.23" y1="398.13" x2="92.00" y2="396.01" stroke-width="0.8"/>
<line x1="95.13" y1="397.26" x2="93.70" y2="394.80" stroke-width="0.8"/>
<line x1="97.02" y1="396.39" x2="95.40" y2="393.59" stroke-width="0.8"/>
<line x1="98.91" y1="395.52" x2="97.10" y2="392.39" stroke-width="0.8"/>
<line x1="100.81" y1="394.65" x2="98.80" y2="391.18" stroke-width="0.8"/>
<line x1="115.08" y1="367.50" x2="129.46" y2="375.80" stroke-width="0.9"/>
<line x1="129.46" y1="375.80" x2="129.46" y2="392.40" stroke-width="0.9"/>
<line x1="126.86" y1="378.12" x2="126.86" y2="390.08" stroke-width="0.9"/>
<line x1="129.46" y1="392.40" x2="115.08" y2="400.70" stroke-width="0.9"/>
<line x1="115.08" y1="400.70" x2="100.70" y2="392.40" stroke-width="0.9"/>
<line x1="114.37" y1="397.29" x2="104.02" y2="391.31" stroke-width="0.9"/>
<line x1="100.70" y1="392.40" x2="100.70" y2="375.80" stroke-width="0.9"/>
<line x1="100.70" y1="375.80" x2="115.08" y2="367.50" stroke-width="0.9"/>
<line x1="104.02" y1="376.89" x2="114.37" y2="370.91" stroke-width="0.9"/>
<line x1="115.08" y1="367.50" x2="115.08" y2="352.90" stroke-width="0.9"/>
<line x1="129.46" y1="375.80" x2="143.60" y2="369.48" stroke-width="0.9"/>
<line x1="151.97" y1="369.55" x2="163.60" y2="375.00" stroke-width="0.9"/>
<line x1="241.40" y1="361.80" x2="253.44" y2="368.75" stroke-width="0.9"/>
<line x1="241.79" y1="365.02" x2="250.45" y2="370.03" stroke-width="0.9"/>
<line x1="253.44" y1="368.75" x2="253.44" y2="382.65" stroke-width="0.9"/>
<line x1="253.44" y1="382.65" x2="241.40" y2="389.60" stroke-width="0.9"/>
<line x1="250.45" y1="381.37" x2="241.79" y2="386.38" stroke-width="0.9"/>
<line x1="241.40" y1="389.60" x2="229.36" y2="382.65" stroke-width="0.9"/>
<line x1="229.36" y1="382.65" x2="229.36" y2="368.75" stroke-width="0.9"/>
<line x1="231.96" y1="380.70" x2="231.96" y2="370.70" stroke-width="0.9"/>
<line x1="229.36" y1="368.75" x2="241.40" y2="361.80" stroke-width="0.9"/>
<line x1="241.40" y1="361.80" x2="241.26" y2="351.80" stroke-width="0.9"/>
<line x1="229.36" y1="368.75" x2="220.29" y2="364.10" stroke-width="0.9"/>
<line x1="253.44" y1="382.65" x2="265.86" y2="390.75" stroke-width="0.9"/>
<line x1="265.86" y1="390.75" x2="277.90" y2="383.80" stroke-width="0.9"/>
<line x1="265.17" y1="391.68" x2="266.56" y2="391.68" stroke-width="0.8"/>
<line x1="264.88" y1="393.54" x2="266.85" y2="393.54" stroke-width="0.8"/>
<line x1="264.59" y1="395.40" x2="267.14" y2="395.40" stroke-width="0.8"/>
<line x1="264.30" y1="397.26" x2="267.43" y2="397.26" stroke-width="0.8"/>
<line x1="264.01" y1="399.12" x2="267.72" y2="399.12" stroke-width="0.8"/>
<line x1="278.36" y1="384.87" x2="279.05" y2="383.66" stroke-width="0.8"/>
<line x1="279.82" y1="386.05" x2="280.81" y2="384.34" stroke-width="0.8"/>
<line x1="281.29" y1="387.23" x2="282.56" y2="385.02" stroke-width="0.8"/>
<line x1="282.76" y1="388.41" x2="284.32" y2="385.70" stroke-width="0.8"/>
<line x1="284.22" y1="389.59" x2="286.08" y2="386.38" stroke-width="0.8"/>
<line x1="289.94" y1="395.35" x2="289.94" y2="404.65" stroke-width="0.9"/>
<line x1="269.85" y1="406.95" x2="277.90" y2="411.60" stroke-width="0.9"/>
<line x1="277.90" y1="383.80" x2="277.90" y2="369.90" stroke-width="0.9"/>
<line x1="277.90" y1="369.90" x2="287.06" y2="363.84" stroke-width="0.9"/>
<line x1="276.47" y1="367.73" x2="285.45" y2="361.79" stroke-width="0.9"/>
<line x1="277.90" y1="369.90" x2="269.64" y2="363.98" stroke-width="0.9"/>
<line x1="265.90" y1="356.70" x2="265.90" y2="348.00" stroke-width="0.9"/>
<line x1="290.40" y1="405.90" x2="302.44" y2="412.85" stroke-width="0.9"/>
<line x1="302.44" y1="412.85" x2="302.44" y2="426.75" stroke-width="0.9"/>
<line x1="299.84" y1="414.80" x2="299.84" y2="424.80" stroke-width="0.9"/>
<line x1="302.44" y1="426.75" x2="290.40" y2="433.70" stroke-width="0.9"/>
<line x1="290.40" y1="433.70" x2="278.36" y2="426.75" stroke-width="0.9"/>
<line x1="290.01" y1="430.48" x2="281.35" y2="425.47" stroke-width="0.9"/>
<line x1="278.36" y1="426.75" x2="278.36" y2="412.85" stroke-width="0.9"/>
<line x1="278.36" y1="412.85" x2="290.40" y2="405.90" stroke-width="0.9"/>
<line x1="281.35" y1="414.13" x2="290.01" y2="409.12" stroke-width="0.9"/>
<line x1="302.44" y1="426.75" x2="315.40" y2="433.70" stroke-width="0.9"/>
<line x1="315.40" y1="433.70" x2="327.60" y2="426.80" stroke-width="0.9"/>
<line x1="315.34" y1="430.75" x2="325.10" y2="425.23" stroke-width="0.9"/>
<line x1="327.60" y1="426.80" x2="340.30" y2="433.70" stroke-width="0.9"/>
<line x1="338.80" y1="433.70" x2="338.80" y2="443.60" stroke-width="0.9"/>
<line x1="341.80" y1="433.70" x2="341.80" y2="443.60" stroke-width="0.9"/>
<line x1="340.30" y1="433.70" x2="348.53" y2="429.35" stroke-width="0.9"/>
<line x1="356.67" y1="429.35" x2="364.90" y2="433.70" stroke-width="0.9"/>
<line x1="364.90" y1="433.70" x2="377.40" y2="426.70" stroke-width="0.9"/>
<path d="M364.90,433.70 Q362.70,435.07 364.90,436.44 Q367.10,437.81 364.90,439.18 Q362.70,440.55 364.90,441.92 Q367.10,443.29 364.90,444.66 Q362.70,446.03 364.90,447.40" fill="none" stroke-width="0.8"/>
<line x1="364.90" y1="447.40" x2="356.89" y2="452.45" stroke-width="0.9"/>
<line x1="366.29" y1="449.60" x2="358.44" y2="454.55" stroke-width="0.9"/>
<line x1="364.90" y1="447.40" x2="373.92" y2="452.60" stroke-width="0.9"/>
<line x1="377.90" y1="459.50" x2="377.90" y2="469.40" stroke-width="0.9"/>
<line x1="377.40" y1="426.70" x2="390.26" y2="433.65" stroke-width="0.9"/>
<line x1="402.30" y1="426.70" x2="414.34" y2="433.65" stroke-width="0.9"/>
<line x1="414.34" y1="433.65" x2="414.34" y2="447.55" stroke-width="0.9"/>
<line x1="411.74" y1="435.60" x2="411.74" y2="445.60" stroke-width="0.9"/>
<line x1="414.34" y1="447.55" x2="402.30" y2="454.50" stroke-width="0.9"/>
<line x1="402.30" y1="454.50" x2="390.26" y2="447.55" stroke-width="0.9"/>
<line x1="401.91" y1="451.28" x2="393.25" y2="446.27" stroke-width="0.9"/>
<line x1="390.26" y1="447.55" x2="390.26" y2="433.65" stroke-width="0.9"/>
<line x1="390.26" y1="433.65" x2="402.30" y2="426.70" stroke-width="0.9"/>
<line x1="393.25" y1="434.93" x2="401.91" y2="429.92" stroke-width="0.9"/>
<line x1="414.34" y1="433.65" x2="421.94" y2="429.14" stroke-width="0.9"/>
<line x1="414.34" y1="447.55" x2="422.02" y2="452.43" stroke-width="0.9"/>
<line x1="512.40" y1="368.20" x2="524.35" y2="375.10" stroke-width="0.9"/>
<line x1="524.35" y1="375.10" x2="524.35" y2="388.90" stroke-width="0.9"/>
<line x1="521.75" y1="377.03" x2="521.75" y2="386.97" stroke-width="0.9"/>
<line x1="524.35" y1="388.90" x2="512.40" y2="395.80" stroke-width="0.9"/>
<line x1="512.40" y1="395.80" x2="500.45" y2="388.90" stroke-width="0.9"/>
<line x1="512.03" y1="392.58" x2="503.42" y2="387.61" stroke-width="0.9"/>
<line x1="500.45" y1="388.90" x2="500.45" y2="375.10" stroke-width="0.9"/>
<line x1="500.45" y1="375.10" x2="512.40" y2="368.20" stroke-width="0.9"/>
<line x1="503.42" y1="376.39" x2="512.03" y2="371.42" stroke-width="0.9"/>
<line x1="512.40" y1="368.20" x2="512.74" y2="358.40" stroke-width="0.9"/>
<line x1="500.45" y1="375.10" x2="492.28" y2="370.83" stroke-width="0.9"/>
<line x1="552.30" y1="417.40" x2="564.25" y2="424.30" stroke-width="0.9"/>
<line x1="564.25" y1="424.30" x2="564.25" y2="438.10" stroke-width="0.9"/>
<line x1="561.65" y1="426.23" x2="561.65" y2="436.17" stroke-width="0.9"/>
<line x1="564.25" y1="438.10" x2="552.30" y2="445.00" stroke-width="0.9"/>
<line x1="552.30" y1="445.00" x2="540.35" y2="438.10" stroke-width="0.9"/>
<line x1="551.93" y1="441.78" x2="543.32" y2="436.81" stroke-width="0.9"/>
<line x1="540.35" y1="438.10" x2="540.35" y2="424.30" stroke-width="0.9"/>
<line x1="540.35" y1="424.30" x2="552.30" y2="417.40" stroke-width="0.9"/>
<line x1="543.32" y1="425.59" x2="551.93" y2="420.62" stroke-width="0.9"/>
<line x1="536.00" y1="400.08" x2="535.09" y2="400.95" stroke-width="0.8"/>
<line x1="534.80" y1="398.60" x2="533.66" y2="399.70" stroke-width="0.8"/>
<line x1="533.59" y1="397.12" x2="532.22" y2="398.44" stroke-width="0.8"/>
<line x1="532.39" y1="395.64" x2="530.79" y2="397.19" stroke-width="0.8"/>
<line x1="531.19" y1="394.17" x2="529.36" y2="395.93" stroke-width="0.8"/>
<line x1="529.99" y1="392.69" x2="527.92" y2="394.68" stroke-width="0.8"/>
<line x1="528.79" y1="391.21" x2="526.49" y2="393.42" stroke-width="0.8"/>
<line x1="527.59" y1="389.73" x2="525.06" y2="392.17" stroke-width="0.8"/>
<line x1="526.39" y1="388.25" x2="523.63" y2="390.91" stroke-width="0.8"/>
<line x1="536.20" y1="401.20" x2="548.60" y2="401.20" stroke-width="0.9"/>
<line x1="536.20" y1="401.20" x2="530.05" y2="409.94" stroke-width="0.9"/>
<line x1="530.96" y1="416.61" x2="540.35" y2="424.30" stroke-width="0.9"/>
<line x1="548.60" y1="401.20" x2="552.30" y2="417.40" stroke-width="0.9"/>
<polygon points="548.60,401.20 556.93,395.13 554.67,392.87" fill="#0a0a0a" stroke-width="0.4"/>
<line x1="540.35" y1="438.10" x2="530.66" y2="443.85" stroke-width="0.9"/>
<line x1="564.25" y1="424.30" x2="576.90" y2="417.40" stroke-width="0.9"/>
<line x1="576.90" y1="417.40" x2="589.10" y2="424.40" stroke-width="0.9"/>
<line x1="576.83" y1="420.36" x2="586.59" y2="425.96" stroke-width="0.9"/>
<line x1="589.10" y1="424.40" x2="600.90" y2="417.20" stroke-width="0.9"/>
<line x1="602.40" y1="417.20" x2="602.40" y2="406.80" stroke-width="0.9"/>
<line x1="599.40" y1="417.20" x2="599.40" y2="406.80" stroke-width="0.9"/>
<line x1="600.90" y1="417.20" x2="609.15" y2="421.63" stroke-width="0.9"/>
<line x1="617.16" y1="421.47" x2="625.10" y2="416.80" stroke-width="0.9"/>
<polygon points="625.10,416.80 626.70,407.20 623.50,407.20" fill="#0a0a0a" stroke-width="0.4"/>
<line x1="625.10" y1="416.80" x2="637.40" y2="423.60" stroke-width="0.9"/>
<line x1="637.40" y1="423.60" x2="649.90" y2="416.40" stroke-width="0.9"/>
<line x1="662.20" y1="395.10" x2="674.50" y2="402.20" stroke-width="0.9"/>
<line x1="674.50" y1="402.20" x2="674.50" y2="416.40" stroke-width="0.9"/>
<line x1="671.90" y1="404.19" x2="671.90" y2="414.41" stroke-width="0.9"/>
<line x1="674.50" y1="416.40" x2="662.20" y2="423.50" stroke-width="0.9"/>
<line x1="662.20" y1="423.50" x2="649.90" y2="416.40" stroke-width="0.9"/>
<line x1="661.78" y1="420.25" x2="652.92" y2="415.14" stroke-width="0.9"/>
<line x1="649.90" y1="416.40" x2="649.90" y2="402.20" stroke-width="0.9"/>
<line x1="649.90" y1="402.20" x2="662.20" y2="395.10" stroke-width="0.9"/>
<line x1="652.92" y1="403.46" x2="661.78" y2="398.35" stroke-width="0.9"/>
<line x1="674.50" y1="402.20" x2="682.99" y2="397.45" stroke-width="0.9"/>
<line x1="674.50" y1="416.40" x2="683.00" y2="421.23" stroke-width="0.9"/>
<line x1="45.50" y1="552.20" x2="57.54" y2="559.15" stroke-width="0.9"/>
<line x1="45.89" y1="555.42" x2="54.55" y2="560.43" stroke-width="0.9"/>
<line x1="57.54" y1="559.15" x2="57.54" y2="573.05" stroke-width="0.9"/>
<line x1="57.54" y1="573.05" x2="45.50" y2="580.00" stroke-width="0.9"/>
<line x1="54.55" y1="571.77" x2="45.89" y2="576.78" stroke-width="0.9"/>
<line x1="45.50" y1="580.00" x2="33.46" y2="573.05" stroke-width="0.9"/>
<line x1="33.46" y1="573.05" x2="33.46" y2="559.15" stroke-width="0.9"/>
<line x1="36.06" y1="571.10" x2="36.06" y2="561.10" stroke-width="0.9"/>
<line x1="33.46" y1="559.15" x2="45.50" y2="552.20" stroke-width="0.9"/>
<line x1="45.50" y1="552.20" x2="45.57" y2="542.80" stroke-width="0.9"/>
<line x1="33.46" y1="559.15" x2="24.72" y2="554.84" stroke-width="0.9"/>
<line x1="70.26" y1="580.25" x2="78.32" y2="575.60" stroke-width="0.9"/>
<line x1="86.28" y1="575.60" x2="94.34" y2="580.25" stroke-width="0.9"/>
<line x1="94.34" y1="594.15" x2="86.28" y2="598.80" stroke-width="0.9"/>
<line x1="78.32" y1="598.80" x2="70.26" y2="594.15" stroke-width="0.9"/>
<line x1="70.26" y1="594.15" x2="70.26" y2="580.25" stroke-width="0.9"/>
<line x1="69.68" y1="579.17" x2="69.03" y2="580.30" stroke-width="0.8"/>
<line x1="67.96" y1="577.96" x2="67.11" y2="579.46" stroke-width="0.8"/>
<line x1="66.24" y1="576.75" x2="65.19" y2="578.61" stroke-width="0.8"/>
<line x1="64.53" y1="575.54" x2="63.27" y2="577.76" stroke-width="0.8"/>
<line x1="62.81" y1="574.33" x2="61.35" y2="576.91" stroke-width="0.8"/>
<line x1="61.10" y1="573.12" x2="59.43" y2="576.06" stroke-width="0.8"/>
<line x1="59.38" y1="571.91" x2="57.51" y2="575.21" stroke-width="0.8"/>
<line x1="69.06" y1="594.09" x2="69.70" y2="595.22" stroke-width="0.8"/>
<line x1="67.19" y1="594.91" x2="68.04" y2="596.41" stroke-width="0.8"/>
<line x1="65.32" y1="595.74" x2="66.38" y2="597.60" stroke-width="0.8"/>
<line x1="63.45" y1="596.57" x2="64.71" y2="598.78" stroke-width="0.8"/>
<line x1="61.58" y1="597.39" x2="63.05" y2="599.97" stroke-width="0.8"/>
<line x1="59.71" y1="598.22" x2="61.39" y2="601.16" stroke-width="0.8"/>
<line x1="57.84" y1="599.05" x2="59.72" y2="602.34" stroke-width="0.8"/>
<line x1="57.90" y1="601.20" x2="49.47" y2="596.75" stroke-width="0.9"/>
<line x1="59.11" y1="598.90" x2="50.85" y2="594.54" stroke-width="0.9"/>
<line x1="57.90" y1="601.20" x2="57.90" y2="611.60" stroke-width="0.9"/>
<line x1="61.96" y1="618.36" x2="70.70" y2="623.00" stroke-width="0.9"/>
<line x1="106.40" y1="573.30" x2="118.44" y2="580.25" stroke-width="0.9"/>
<line x1="106.79" y1="576.52" x2="115.45" y2="581.53" stroke-width="0.9"/>
<line x1="118.44" y1="580.25" x2="118.44" y2="594.15" stroke-width="0.9"/>
<line x1="118.44" y1="594.15" x2="106.40" y2="601.10" stroke-width="0.9"/>
<line x1="115.45" y1="592.87" x2="106.79" y2="597.88" stroke-width="0.9"/>
<line x1="106.40" y1="601.10" x2="94.36" y2="594.15" stroke-width="0.9"/>
<line x1="94.36" y1="594.15" x2="94.36" y2="580.25" stroke-width="0.9"/>
<line x1="96.96" y1="592.20" x2="96.96" y2="582.20" stroke-width="0.9"/>
<line x1="94.36" y1="580.25" x2="106.40" y2="573.30" stroke-width="0.9"/>
<line x1="118.44" y1="580.25" x2="131.80" y2="573.20" stroke-width="0.9"/>
<line x1="131.80" y1="573.20" x2="144.30" y2="580.00" stroke-width="0.9"/>
<line x1="131.81" y1="576.16" x2="141.81" y2="581.60" stroke-width="0.9"/>
<line x1="144.30" y1="580.00" x2="156.90" y2="573.20" stroke-width="0.9"/>
<line x1="158.40" y1="573.20" x2="158.40" y2="564.10" stroke-width="0.9"/>
<line x1="155.40" y1="573.20" x2="155.40" y2="564.10" stroke-width="0.9"/>
<line x1="156.90" y1="573.20" x2="165.57" y2="577.98" stroke-width="0.9"/>
<line x1="173.60" y1="577.92" x2="181.90" y2="573.20" stroke-width="0.9"/>
<line x1="181.90" y1="573.20" x2="194.40" y2="580.40" stroke-width="0.9"/>
<line x1="181.85" y1="576.17" x2="191.85" y2="581.93" stroke-width="0.9"/>
<line x1="194.40" y1="580.40" x2="194.40" y2="594.20" stroke-width="0.9"/>
<line x1="194.40" y1="594.20" x2="206.44" y2="601.15" stroke-width="0.9"/>
<line x1="194.79" y1="597.42" x2="203.45" y2="602.43" stroke-width="0.9"/>
<line x1="206.44" y1="601.15" x2="206.44" y2="615.05" stroke-width="0.9"/>
<line x1="206.44" y1="615.05" x2="194.40" y2="622.00" stroke-width="0.9"/>
<line x1="203.45" y1="613.77" x2="194.79" y2="618.78" stroke-width="0.9"/>
<line x1="194.40" y1="622.00" x2="182.36" y2="615.05" stroke-width="0.9"/>
<line x1="182.36" y1="615.05" x2="182.36" y2="601.15" stroke-width="0.9"/>
<line x1="184.96" y1="613.10" x2="184.96" y2="603.10" stroke-width="0.9"/>
<line x1="182.36" y1="601.15" x2="194.40" y2="594.20" stroke-width="0.9"/>
<line x1="206.44" y1="615.05" x2="215.28" y2="620.49" stroke-width="0.9"/>
<line x1="194.40" y1="622.00" x2="194.54" y2="632.80" stroke-width="0.9"/>
<line x1="306.40" y1="594.10" x2="318.44" y2="601.05" stroke-width="0.9"/>
<line x1="306.79" y1="597.32" x2="315.45" y2="602.33" stroke-width="0.9"/>
<line x1="318.44" y1="601.05" x2="318.44" y2="614.95" stroke-width="0.9"/>
<line x1="318.44" y1="614.95" x2="306.40" y2="621.90" stroke-width="0.9"/>
<line x1="315.45" y1="613.67" x2="306.79" y2="618.68" stroke-width="0.9"/>
<line x1="306.40" y1="621.90" x2="294.36" y2="614.95" stroke-width="0.9"/>
<line x1="294.36" y1="614.95" x2="294.36" y2="601.05" stroke-width="0.9"/>
<line x1="296.96" y1="613.00" x2="296.96" y2="603.00" stroke-width="0.9"/>
<line x1="294.36" y1="601.05" x2="306.40" y2="594.10" stroke-width="0.9"/>
<line x1="294.36" y1="601.05" x2="286.04" y2="596.50" stroke-width="0.9"/>
<line x1="294.36" y1="614.95" x2="286.01" y2="619.65" stroke-width="0.9"/>
<line x1="318.44" y1="601.05" x2="330.70" y2="594.20" stroke-width="0.9"/>
<line x1="330.70" y1="594.20" x2="343.10" y2="601.20" stroke-width="0.9"/>
<line x1="330.66" y1="597.16" x2="340.58" y2="602.76" stroke-width="0.9"/>
<line x1="343.10" y1="601.20" x2="355.60" y2="594.20" stroke-width="0.9"/>
<line x1="357.10" y1="594.20" x2="357.10" y2="584.50" stroke-width="0.9"/>
<line x1="354.10" y1="594.20" x2="354.10" y2="584.50" stroke-width="0.9"/>
<line x1="355.60" y1="594.20" x2="363.94" y2="599.15" stroke-width="0.9"/>
<line x1="379.10" y1="594.10" x2="379.81" y2="595.30" stroke-width="0.8"/>
<line x1="377.27" y1="594.84" x2="378.27" y2="596.54" stroke-width="0.8"/>
<line x1="375.44" y1="595.58" x2="376.73" y2="597.78" stroke-width="0.8"/>
<line x1="373.60" y1="596.33" x2="375.19" y2="599.03" stroke-width="0.8"/>
<line x1="371.77" y1="597.07" x2="373.65" y2="600.27" stroke-width="0.8"/>
<line x1="380.30" y1="594.20" x2="380.30" y2="579.90" stroke-width="0.9"/>
<line x1="380.30" y1="579.90" x2="392.80" y2="572.90" stroke-width="0.9"/>
<line x1="394.30" y1="572.90" x2="394.30" y2="563.30" stroke-width="0.9"/>
<line x1="391.30" y1="572.90" x2="391.30" y2="563.30" stroke-width="0.9"/>
<line x1="392.80" y1="572.90" x2="401.29" y2="577.65" stroke-width="0.9"/>
<line x1="409.27" y1="577.58" x2="417.80" y2="572.60" stroke-width="0.9"/>
<line x1="380.30" y1="594.20" x2="392.56" y2="601.05" stroke-width="0.9"/>
<line x1="404.60" y1="594.10" x2="416.64" y2="601.05" stroke-width="0.9"/>
<line x1="416.64" y1="601.05" x2="416.64" y2="614.95" stroke-width="0.9"/>
<line x1="414.04" y1="603.00" x2="414.04" y2="613.00" stroke-width="0.9"/>
<line x1="416.64" y1="614.95" x2="404.60" y2="621.90" stroke-width="0.9"/>
<line x1="404.60" y1="621.90" x2="392.56" y2="614.95" stroke-width="0.9"/>
<line x1="404.21" y1="618.68" x2="395.55" y2="613.67" stroke-width="0.9"/>
<line x1="392.56" y1="614.95" x2="392.56" y2="601.05" stroke-width="0.9"/>
<line x1="392.56" y1="601.05" x2="404.60" y2="594.10" stroke-width="0.9"/>
<line x1="395.55" y1="602.33" x2="404.21" y2="597.32" stroke-width="0.9"/>
<line x1="416.64" y1="601.05" x2="424.96" y2="596.50" stroke-width="0.9"/>
<line x1="416.64" y1="614.95" x2="424.99" y2="619.65" stroke-width="0.9"/>
<line x1="563.50" y1="528.60" x2="575.54" y2="535.55" stroke-width="0.9"/>
<line x1="563.89" y1="531.82" x2="572.55" y2="536.83" stroke-width="0.9"/>
<line x1="575.54" y1="535.55" x2="575.54" y2="549.45" stroke-width="0.9"/>
<line x1="575.54" y1="549.45" x2="563.50" y2="556.40" stroke-width="0.9"/>
<line x1="572.55" y1="548.17" x2="563.89" y2="553.18" stroke-width="0.9"/>
<line x1="563.50" y1="556.40" x2="551.46" y2="549.45" stroke-width="0.9"/>
<line x1="551.46" y1="549.45" x2="551.46" y2="535.55" stroke-width="0.9"/>
<line x1="554.06" y1="547.50" x2="554.06" y2="537.50" stroke-width="0.9"/>
<line x1="551.46" y1="535.55" x2="563.50" y2="528.60" stroke-width="0.9"/>
<line x1="563.50" y1="528.60" x2="563.63" y2="519.20" stroke-width="0.9"/>
<line x1="575.54" y1="535.55" x2="583.60" y2="530.97" stroke-width="0.9"/>
<line x1="563.50" y1="556.40" x2="563.70" y2="570.70" stroke-width="0.9"/>
<line x1="563.70" y1="570.70" x2="554.90" y2="580.00" stroke-width="0.9"/>
<line x1="554.90" y1="580.00" x2="541.90" y2="576.90" stroke-width="0.9"/>
<line x1="541.90" y1="576.90" x2="534.48" y2="584.18" stroke-width="0.9"/>
<line x1="540.08" y1="575.04" x2="532.81" y2="582.18" stroke-width="0.9"/>
<line x1="541.90" y1="576.90" x2="539.78" y2="568.17" stroke-width="0.9"/>
<line x1="534.73" y1="561.38" x2="526.20" y2="556.40" stroke-width="0.9"/>
<polygon points="554.90,580.00 556.07,591.70 559.18,590.95" fill="#0a0a0a" stroke-width="0.4"/>
<line x1="563.21" y1="596.72" x2="572.40" y2="598.60" stroke-width="0.9"/>
<line x1="572.40" y1="598.60" x2="579.97" y2="592.72" stroke-width="0.9"/>
<line x1="570.81" y1="596.55" x2="578.22" y2="590.79" stroke-width="0.9"/>
<polygon points="579.90,612.40 573.81,597.84 570.99,599.36" fill="#0a0a0a" stroke-width="0.4"/>
<line x1="579.90" y1="612.40" x2="572.40" y2="623.60" stroke-width="0.9"/>
<line x1="572.40" y1="623.60" x2="576.37" y2="630.78" stroke-width="0.9"/>
<line x1="606.90" y1="609.20" x2="618.94" y2="616.15" stroke-width="0.9"/>
<line x1="607.29" y1="612.42" x2="615.95" y2="617.43" stroke-width="0.9"/>
<line x1="618.94" y1="616.15" x2="618.94" y2="630.05" stroke-width="0.9"/>
<line x1="618.94" y1="630.05" x2="606.90" y2="637.00" stroke-width="0.9"/>
<line x1="615.95" y1="628.77" x2="607.29" y2="633.78" stroke-width="0.9"/>
<line x1="606.90" y1="637.00" x2="594.86" y2="630.05" stroke-width="0.9"/>
<line x1="594.86" y1="630.05" x2="594.86" y2="616.15" stroke-width="0.9"/>
<line x1="597.46" y1="628.10" x2="597.46" y2="618.10" stroke-width="0.9"/>
<line x1="594.86" y1="616.15" x2="606.90" y2="609.20" stroke-width="0.9"/>
<line x1="583.02" y1="633.51" x2="594.86" y2="630.05" stroke-width="0.9"/>
<line x1="579.90" y1="612.40" x2="594.86" y2="616.15" stroke-width="0.9"/>
<line x1="606.90" y1="637.00" x2="606.90" y2="647.70" stroke-width="0.9"/>
<line x1="550.65" y1="611.46" x2="557.60" y2="623.50" stroke-width="0.9"/>
<line x1="557.60" y1="623.50" x2="550.65" y2="635.54" stroke-width="0.9"/>
<line x1="554.38" y1="623.89" x2="549.37" y2="632.55" stroke-width="0.9"/>
<line x1="550.65" y1="635.54" x2="536.75" y2="635.54" stroke-width="0.9"/>
<line x1="536.75" y1="635.54" x2="529.80" y2="623.50" stroke-width="0.9"/>
<line x1="538.03" y1="632.55" x2="533.02" y2="623.89" stroke-width="0.9"/>
<line x1="529.80" y1="623.50" x2="536.75" y2="611.46" stroke-width="0.9"/>
<line x1="536.75" y1="611.46" x2="550.65" y2="611.46" stroke-width="0.9"/>
<line x1="538.70" y1="614.06" x2="548.70" y2="614.06" stroke-width="0.9"/>
<line x1="571.35" y1="622.94" x2="571.34" y2="624.25" stroke-width="0.8"/>
<line x1="569.23" y1="622.72" x2="569.22" y2="624.44" stroke-width="0.8"/>
<line x1="567.12" y1="622.50" x2="567.11" y2="624.63" stroke-width="0.8"/>
<line x1="565.01" y1="622.28" x2="564.99" y2="624.82" stroke-width="0.8"/>
<line x1="562.90" y1="622.05" x2="562.88" y2="625.02" stroke-width="0.8"/>
<line x1="560.78" y1="621.83" x2="560.76" y2="625.21" stroke-width="0.8"/>
<line x1="558.67" y1="621.61" x2="558.64" y2="625.40" stroke-width="0.8"/>
<line x1="529.80" y1="623.50" x2="519.60" y2="623.57" stroke-width="0.9"/>
<line x1="536.75" y1="635.54" x2="531.61" y2="643.88" stroke-width="0.9"/>
<line x1="606.90" y1="609.20" x2="606.90" y2="595.40" stroke-width="0.9"/>
<line x1="606.90" y1="595.40" x2="619.30" y2="588.20" stroke-width="0.9"/>
<line x1="606.83" y1="592.43" x2="616.75" y2="586.67" stroke-width="0.9"/>
<line x1="619.30" y1="588.20" x2="619.30" y2="573.70" stroke-width="0.9"/>
<line x1="619.30" y1="573.70" x2="610.91" y2="568.96" stroke-width="0.9"/>
<line x1="618.02" y1="575.96" x2="609.80" y2="571.32" stroke-width="0.9"/>
<line x1="619.30" y1="573.70" x2="627.79" y2="568.95" stroke-width="0.9"/>
<line x1="635.83" y1="568.91" x2="644.40" y2="573.60" stroke-width="0.9"/>
<line x1="644.40" y1="573.60" x2="644.40" y2="587.90" stroke-width="0.9"/>
<line x1="647.00" y1="575.03" x2="647.00" y2="586.47" stroke-width="0.9"/>
<line x1="644.40" y1="587.90" x2="656.79" y2="594.85" stroke-width="0.9"/>
<line x1="669.00" y1="587.80" x2="681.21" y2="594.85" stroke-width="0.9"/>
<line x1="669.41" y1="591.04" x2="678.20" y2="596.11" stroke-width="0.9"/>
<line x1="681.21" y1="594.85" x2="681.21" y2="608.95" stroke-width="0.9"/>
<line x1="681.21" y1="608.95" x2="669.00" y2="616.00" stroke-width="0.9"/>
<line x1="678.20" y1="607.69" x2="669.41" y2="612.76" stroke-width="0.9"/>
<line x1="669.00" y1="616.00" x2="656.79" y2="608.95" stroke-width="0.9"/>
<line x1="656.79" y1="608.95" x2="656.79" y2="594.85" stroke-width="0.9"/>
<line x1="659.39" y1="606.98" x2="659.39" y2="596.82" stroke-width="0.9"/>
<line x1="656.79" y1="594.85" x2="669.00" y2="587.80" stroke-width="0.9"/>
<line x1="681.21" y1="608.95" x2="689.53" y2="614.31" stroke-width="0.9"/>
<line x1="669.00" y1="616.00" x2="669.07" y2="626.80" stroke-width="0.9"/>
<line x1="35.00" y1="761.90" x2="47.04" y2="768.85" stroke-width="0.9"/>
<line x1="35.39" y1="765.12" x2="44.05" y2="770.13" stroke-width="0.9"/>
<line x1="47.04" y1="768.85" x2="47.04" y2="782.75" stroke-width="0.9"/>
<line x1="47.04" y1="782.75" x2="35.00" y2="789.70" stroke-width="0.9"/>
<line x1="44.05" y1="781.47" x2="35.39" y2="786.48" stroke-width="0.9"/>
<line x1="35.00" y1="789.70" x2="22.96" y2="782.75" stroke-width="0.9"/>
<line x1="22.96" y1="782.75" x2="22.96" y2="768.85" stroke-width="0.9"/>
<line x1="25.56" y1="780.80" x2="25.56" y2="770.80" stroke-width="0.9"/>
<line x1="22.96" y1="768.85" x2="35.00" y2="761.90" stroke-width="0.9"/>
<line x1="22.96" y1="782.75" x2="14.67" y2="787.58" stroke-width="0.9"/>
<line x1="35.00" y1="789.70" x2="35.14" y2="799.60" stroke-width="0.9"/>
<line x1="94.70" y1="742.60" x2="106.65" y2="749.50" stroke-width="0.9"/>
<line x1="95.07" y1="745.82" x2="103.68" y2="750.79" stroke-width="0.9"/>
<line x1="106.65" y1="749.50" x2="106.65" y2="763.30" stroke-width="0.9"/>
<line x1="106.65" y1="763.30" x2="94.70" y2="770.20" stroke-width="0.9"/>
<line x1="103.68" y1="762.01" x2="95.07" y2="766.98" stroke-width="0.9"/>
<line x1="94.70" y1="770.20" x2="82.75" y2="763.30" stroke-width="0.9"/>
<line x1="82.75" y1="763.30" x2="82.75" y2="749.50" stroke-width="0.9"/>
<line x1="85.35" y1="761.37" x2="85.35" y2="751.43" stroke-width="0.9"/>
<line x1="82.75" y1="749.50" x2="94.70" y2="742.60" stroke-width="0.9"/>
<line x1="47.04" y1="768.85" x2="58.80" y2="763.30" stroke-width="0.9"/>
<line x1="58.80" y1="763.30" x2="58.80" y2="749.50" stroke-width="0.9"/>
<line x1="61.40" y1="761.64" x2="61.40" y2="751.16" stroke-width="0.9"/>
<line x1="58.80" y1="749.50" x2="82.75" y2="749.50" stroke-width="0.9"/>
<line x1="58.80" y1="763.30" x2="66.64" y2="768.14" stroke-width="0.9"/>
<line x1="74.04" y1="768.27" x2="82.75" y2="763.30" stroke-width="0.9"/>
<line x1="94.70" y1="770.20" x2="94.43" y2="780.00" stroke-width="0.9"/>
<line x1="94.70" y1="742.60" x2="94.70" y2="728.00" stroke-width="0.9"/>
<line x1="94.70" y1="728.00" x2="106.40" y2="721.20" stroke-width="0.9"/>
<line x1="97.18" y1="729.57" x2="106.54" y2="724.13" stroke-width="0.9"/>
<line x1="106.40" y1="721.20" x2="106.40" y2="707.00" stroke-width="0.9"/>
<line x1="106.40" y1="707.00" x2="98.81" y2="704.20" stroke-width="0.9"/>
<line x1="105.50" y1="709.44" x2="98.06" y2="706.69" stroke-width="0.9"/>
<line x1="106.40" y1="707.00" x2="113.22" y2="704.30" stroke-width="0.9"/>
<line x1="121.78" y1="704.29" x2="129.90" y2="707.50" stroke-width="0.9"/>
<line x1="129.90" y1="707.50" x2="141.90" y2="701.20" stroke-width="0.9"/>
<polygon points="129.90,707.50 128.30,721.20 131.50,721.20" fill="#0a0a0a" stroke-width="0.4"/>
<line x1="129.90" y1="721.20" x2="121.88" y2="726.32" stroke-width="0.9"/>
<line x1="131.30" y1="723.39" x2="123.44" y2="728.41" stroke-width="0.9"/>
<line x1="129.90" y1="721.20" x2="138.47" y2="726.41" stroke-width="0.9"/>
<line x1="142.40" y1="733.40" x2="142.40" y2="742.40" stroke-width="0.9"/>
<line x1="141.90" y1="701.20" x2="154.25" y2="707.60" stroke-width="0.9"/>
<line x1="166.20" y1="700.70" x2="178.15" y2="707.60" stroke-width="0.9"/>
<line x1="166.57" y1="703.92" x2="175.18" y2="708.89" stroke-width="0.9"/>
<line x1="178.15" y1="707.60" x2="178.15" y2="721.40" stroke-width="0.9"/>
<line x1="178.15" y1="721.40" x2="166.20" y2="728.30" stroke-width="0.9"/>
<line x1="175.18" y1="720.11" x2="166.57" y2="725.08" stroke-width="0.9"/>
<line x1="166.20" y1="728.30" x2="154.25" y2="721.40" stroke-width="0.9"/>
<line x1="154.25" y1="721.40" x2="154.25" y2="707.60" stroke-width="0.9"/>
<line x1="156.85" y1="719.47" x2="156.85" y2="709.53" stroke-width="0.9"/>
<line x1="154.25" y1="707.60" x2="166.20" y2="700.70" stroke-width="0.9"/>
<line x1="178.15" y1="707.60" x2="185.72" y2="704.12" stroke-width="0.9"/>
<line x1="178.15" y1="721.40" x2="186.10" y2="726.81" stroke-width="0.9"/>
<line x1="253.90" y1="740.50" x2="265.94" y2="747.45" stroke-width="0.9"/>
<line x1="254.29" y1="743.72" x2="262.95" y2="748.73" stroke-width="0.9"/>
<line x1="265.94" y1="747.45" x2="265.94" y2="761.35" stroke-width="0.9"/>
<line x1="265.94" y1="761.35" x2="253.90" y2="768.30" stroke-width="0.9"/>
<line x1="262.95" y1="760.07" x2="254.29" y2="765.08" stroke-width="0.9"/>
<line x1="253.90" y1="768.30" x2="241.86" y2="761.35" stroke-width="0.9"/>
<line x1="241.86" y1="761.35" x2="241.86" y2="747.45" stroke-width="0.9"/>
<line x1="244.46" y1="759.40" x2="244.46" y2="749.40" stroke-width="0.9"/>
<line x1="241.86" y1="747.45" x2="253.90" y2="740.50" stroke-width="0.9"/>
<line x1="265.94" y1="747.45" x2="277.98" y2="740.50" stroke-width="0.9"/>
<line x1="277.98" y1="740.50" x2="290.01" y2="747.45" stroke-width="0.9"/>
<line x1="290.01" y1="747.45" x2="290.01" y2="756.75" stroke-width="0.9"/>
<line x1="286.03" y1="763.65" x2="277.98" y2="768.30" stroke-width="0.9"/>
<line x1="277.98" y1="768.30" x2="265.94" y2="761.35" stroke-width="0.9"/>
<line x1="276.48" y1="768.30" x2="276.48" y2="777.90" stroke-width="0.9"/>
<line x1="279.48" y1="768.30" x2="279.48" y2="777.90" stroke-width="0.9"/>
<line x1="241.86" y1="747.45" x2="233.61" y2="743.28" stroke-width="0.9"/>
<line x1="253.90" y1="768.30" x2="253.90" y2="777.90" stroke-width="0.9"/>
<line x1="291.21" y1="747.54" x2="290.59" y2="746.39" stroke-width="0.8"/>
<line x1="293.08" y1="746.76" x2="292.26" y2="745.25" stroke-width="0.8"/>
<line x1="294.95" y1="745.98" x2="293.93" y2="744.10" stroke-width="0.8"/>
<line x1="296.82" y1="745.19" x2="295.60" y2="742.96" stroke-width="0.8"/>
<line x1="298.69" y1="744.41" x2="297.27" y2="741.81" stroke-width="0.8"/>
<line x1="300.55" y1="743.63" x2="298.94" y2="740.66" stroke-width="0.8"/>
<line x1="302.42" y1="742.85" x2="300.61" y2="739.52" stroke-width="0.8"/>
<line x1="302.40" y1="740.70" x2="314.90" y2="747.40" stroke-width="0.9"/>
<line x1="314.90" y1="747.40" x2="326.96" y2="740.75" stroke-width="0.9"/>
<line x1="339.00" y1="719.90" x2="351.04" y2="726.85" stroke-width="0.9"/>
<line x1="351.04" y1="726.85" x2="351.04" y2="740.75" stroke-width="0.9"/>
<line x1="348.44" y1="728.80" x2="348.44" y2="738.80" stroke-width="0.9"/>
<line x1="351.04" y1="740.75" x2="339.00" y2="747.70" stroke-width="0.9"/>
<line x1="339.00" y1="747.70" x2="326.96" y2="740.75" stroke-width="0.9"/>
<line x1="338.61" y1="744.48" x2="329.95" y2="739.47" stroke-width="0.9"/>
<line x1="326.96" y1="740.75" x2="326.96" y2="726.85" stroke-width="0.9"/>
<line x1="326.96" y1="726.85" x2="339.00" y2="719.90" stroke-width="0.9"/>
<line x1="329.95" y1="728.13" x2="338.61" y2="723.12" stroke-width="0.9"/>
<line x1="351.04" y1="726.85" x2="359.40" y2="722.59" stroke-width="0.9"/>
<line x1="367.58" y1="722.62" x2="376.00" y2="727.00" stroke-width="0.9"/>
<line x1="464.50" y1="725.30" x2="476.45" y2="732.20" stroke-width="0.9"/>
<line x1="464.87" y1="728.52" x2="473.48" y2="733.49" stroke-width="0.9"/>
<line x1="476.45" y1="732.20" x2="476.45" y2="746.00" stroke-width="0.9"/>
<line x1="476.45" y1="746.00" x2="464.50" y2="752.90" stroke-width="0.9"/>
<line x1="473.48" y1="744.71" x2="464.87" y2="749.68" stroke-width="0.9"/>
<line x1="464.50" y1="752.90" x2="452.55" y2="746.00" stroke-width="0.9"/>
<line x1="452.55" y1="746.00" x2="452.55" y2="732.20" stroke-width="0.9"/>
<line x1="455.15" y1="744.07" x2="455.15" y2="734.13" stroke-width="0.9"/>
<line x1="452.55" y1="732.20" x2="464.50" y2="725.30" stroke-width="0.9"/>
<line x1="476.45" y1="732.20" x2="488.40" y2="725.30" stroke-width="0.9"/>
<line x1="488.40" y1="725.30" x2="500.35" y2="732.20" stroke-width="0.9"/>
<line x1="500.35" y1="732.20" x2="500.35" y2="746.00" stroke-width="0.9"/>
<line x1="500.35" y1="746.00" x2="488.40" y2="752.90" stroke-width="0.9"/>
<line x1="488.40" y1="752.90" x2="476.45" y2="746.00" stroke-width="0.9"/>
<line x1="489.90" y1="725.30" x2="489.90" y2="716.80" stroke-width="0.9"/>
<line x1="486.90" y1="725.30" x2="486.90" y2="716.80" stroke-width="0.9"/>
<line x1="487.76" y1="753.92" x2="489.15" y2="753.84" stroke-width="0.8"/>
<line x1="487.58" y1="755.90" x2="489.55" y2="755.79" stroke-width="0.8"/>
<line x1="487.40" y1="757.87" x2="489.95" y2="757.73" stroke-width="0.8"/>
<line x1="487.22" y1="759.85" x2="490.35" y2="759.68" stroke-width="0.8"/>
<line x1="487.04" y1="761.83" x2="490.74" y2="761.62" stroke-width="0.8"/>
<line x1="493.29" y1="769.40" x2="500.90" y2="773.30" stroke-width="0.9"/>
<line x1="500.90" y1="773.30" x2="493.00" y2="781.40" stroke-width="0.9"/>
<line x1="500.90" y1="773.30" x2="509.30" y2="781.40" stroke-width="0.9"/>
<line x1="500.90" y1="773.30" x2="513.10" y2="766.60" stroke-width="0.9"/>
<line x1="513.10" y1="766.60" x2="513.10" y2="753.00" stroke-width="0.9"/>
<line x1="500.95" y1="747.08" x2="501.58" y2="745.92" stroke-width="0.8"/>
<line x1="502.66" y1="748.27" x2="503.51" y2="746.73" stroke-width="0.8"/>
<line x1="504.37" y1="749.47" x2="505.44" y2="747.53" stroke-width="0.8"/>
<line x1="506.09" y1="750.66" x2="507.36" y2="748.34" stroke-width="0.8"/>
<line x1="507.80" y1="751.86" x2="509.29" y2="749.14" stroke-width="0.8"/>
<line x1="509.52" y1="753.05" x2="511.22" y2="749.95" stroke-width="0.8"/>
<line x1="511.23" y1="754.24" x2="513.15" y2="750.76" stroke-width="0.8"/>
<polygon points="513.10,766.60 519.90,772.82 521.69,769.93" fill="#0a0a0a" stroke-width="0.4"/>
<line x1="464.50" y1="752.90" x2="464.01" y2="763.80" stroke-width="0.9"/>
<line x1="459.81" y1="770.69" x2="447.60" y2="777.70" stroke-width="0.9"/>
<line x1="447.60" y1="777.70" x2="442.82" y2="770.50" stroke-width="0.9"/>
<line x1="436.38" y1="767.79" x2="424.40" y2="770.10" stroke-width="0.9"/>
<line x1="424.40" y1="770.10" x2="410.00" y2="767.40" stroke-width="0.9"/>
<line x1="424.40" y1="770.10" x2="420.00" y2="755.70" stroke-width="0.9"/>
<polygon points="447.60,777.70 433.30,775.20 433.10,778.20" fill="#0a0a0a" stroke-width="0.4"/>
<line x1="433.20" y1="776.70" x2="417.50" y2="780.20" stroke-width="2.4"/>
<polygon points="410.00,767.40 416.21,780.96 418.79,779.44" fill="#0a0a0a" stroke-width="0.4"/>
<line x1="420.00" y1="755.70" x2="410.16" y2="754.40" stroke-width="0.9"/>
<line x1="410.00" y1="767.40" x2="399.82" y2="769.27" stroke-width="0.9"/>
<line x1="417.50" y1="780.20" x2="407.70" y2="780.61" stroke-width="0.9"/>
<line x1="433.20" y1="776.70" x2="438.74" y2="784.54" stroke-width="0.9"/>
<line x1="599.80" y1="747.10" x2="611.84" y2="754.05" stroke-width="0.9"/>
<line x1="600.19" y1="750.32" x2="608.85" y2="755.33" stroke-width="0.9"/>
<line x1="611.84" y1="754.05" x2="611.84" y2="767.95" stroke-width="0.9"/>
<line x1="611.84" y1="767.95" x2="599.80" y2="774.90" stroke-width="0.9"/>
<line x1="608.85" y1="766.67" x2="600.19" y2="771.68" stroke-width="0.9"/>
<line x1="599.80" y1="774.90" x2="587.76" y2="767.95" stroke-width="0.9"/>
<line x1="587.76" y1="767.95" x2="587.76" y2="754.05" stroke-width="0.9"/>
<line x1="590.36" y1="766.00" x2="590.36" y2="756.00" stroke-width="0.9"/>
<line x1="587.76" y1="754.05" x2="599.80" y2="747.10" stroke-width="0.9"/>
<line x1="587.76" y1="754.05" x2="579.08" y2="749.53" stroke-width="0.9"/>
<line x1="587.76" y1="767.95" x2="579.04" y2="772.70" stroke-width="0.9"/>
<line x1="599.80" y1="774.90" x2="599.87" y2="784.80" stroke-width="0.9"/>
<line x1="611.84" y1="754.05" x2="624.20" y2="747.40" stroke-width="0.9"/>
<line x1="625.70" y1="747.40" x2="625.70" y2="738.20" stroke-width="0.9"/>
<line x1="622.70" y1="747.40" x2="622.70" y2="738.20" stroke-width="0.9"/>
<line x1="624.20" y1="747.40" x2="632.23" y2="752.08" stroke-width="0.9"/>
<line x1="640.21" y1="752.14" x2="648.60" y2="747.40" stroke-width="0.9"/>
<line x1="648.60" y1="747.40" x2="661.10" y2="754.40" stroke-width="0.9"/>
<line x1="661.10" y1="754.40" x2="672.76" y2="747.55" stroke-width="0.9"/>
<line x1="684.80" y1="726.70" x2="696.84" y2="733.65" stroke-width="0.9"/>
<line x1="696.84" y1="733.65" x2="696.84" y2="747.55" stroke-width="0.9"/>
<line x1="694.24" y1="735.60" x2="694.24" y2="745.60" stroke-width="0.9"/>
<line x1="696.84" y1="747.55" x2="684.80" y2="754.50" stroke-width="0.9"/>
<line x1="684.80" y1="754.50" x2="672.76" y2="747.55" stroke-width="0.9"/>
<line x1="684.41" y1="751.28" x2="675.75" y2="746.27" stroke-width="0.9"/>
<line x1="672.76" y1="747.55" x2="672.76" y2="733.65" stroke-width="0.9"/>
<line x1="672.76" y1="733.65" x2="684.80" y2="726.70" stroke-width="0.9"/>
<line x1="675.75" y1="734.93" x2="684.41" y2="729.92" stroke-width="0.9"/>
<line x1="684.80" y1="726.70" x2="684.80" y2="717.60" stroke-width="0.9"/>
<line x1="684.80" y1="754.50" x2="684.80" y2="763.40" stroke-width="0.9"/>
<line x1="37.50" y1="901.70" x2="49.54" y2="908.65" stroke-width="0.9"/>
<line x1="49.54" y1="908.65" x2="49.54" y2="922.55" stroke-width="0.9"/>
<line x1="46.94" y1="910.60" x2="46.94" y2="920.60" stroke-width="0.9"/>
<line x1="49.54" y1="922.55" x2="37.50" y2="929.50" stroke-width="0.9"/>
<line x1="37.50" y1="929.50" x2="25.46" y2="922.55" stroke-width="0.9"/>
<line x1="37.11" y1="926.28" x2="28.45" y2="921.27" stroke-width="0.9"/>
<line x1="25.46" y1="922.55" x2="25.46" y2="908.65" stroke-width="0.9"/>
<line x1="25.46" y1="908.65" x2="37.50" y2="901.70" stroke-width="0.9"/>
<line x1="28.45" y1="909.93" x2="37.11" y2="904.92" stroke-width="0.9"/>
<line x1="25.46" y1="922.55" x2="18.32" y2="927.34" stroke-width="0.9"/>
<line x1="37.50" y1="929.50" x2="37.50" y2="943.60" stroke-width="0.9"/>
<line x1="49.54" y1="908.65" x2="61.20" y2="902.00" stroke-width="0.9"/>
<line x1="61.20" y1="902.00" x2="61.33" y2="893.20" stroke-width="0.9"/>
<line x1="61.20" y1="902.00" x2="69.74" y2="907.06" stroke-width="0.9"/>
<line x1="77.71" y1="907.14" x2="86.10" y2="902.40" stroke-width="0.9"/>
<line x1="86.10" y1="902.40" x2="98.60" y2="909.40" stroke-width="0.9"/>
<line x1="98.60" y1="909.40" x2="98.60" y2="922.60" stroke-width="0.9"/>
<line x1="98.60" y1="909.40" x2="110.76" y2="902.55" stroke-width="0.9"/>
<line x1="122.80" y1="881.70" x2="134.84" y2="888.65" stroke-width="0.9"/>
<line x1="134.84" y1="888.65" x2="134.84" y2="902.55" stroke-width="0.9"/>
<line x1="132.24" y1="890.60" x2="132.24" y2="900.60" stroke-width="0.9"/>
<line x1="134.84" y1="902.55" x2="122.80" y2="909.50" stroke-width="0.9"/>
<line x1="122.80" y1="909.50" x2="110.76" y2="902.55" stroke-width="0.9"/>
<line x1="122.41" y1="906.28" x2="113.75" y2="901.27" stroke-width="0.9"/>
<line x1="110.76" y1="902.55" x2="110.76" y2="888.65" stroke-width="0.9"/>
<line x1="110.76" y1="888.65" x2="122.80" y2="881.70" stroke-width="0.9"/>
<line x1="113.75" y1="889.93" x2="122.41" y2="884.92" stroke-width="0.9"/>
<line x1="122.80" y1="881.70" x2="122.93" y2="872.60" stroke-width="0.9"/>
<line x1="134.84" y1="888.65" x2="147.30" y2="882.00" stroke-width="0.9"/>
<line x1="147.30" y1="882.00" x2="155.76" y2="886.60" stroke-width="0.9"/>
<line x1="237.00" y1="902.20" x2="249.04" y2="909.15" stroke-width="0.9"/>
<line x1="237.39" y1="905.42" x2="246.05" y2="910.43" stroke-width="0.9"/>
<line x1="249.04" y1="909.15" x2="249.04" y2="923.05" stroke-width="0.9"/>
<line x1="249.04" y1="923.05" x2="237.00" y2="930.00" stroke-width="0.9"/>
<line x1="246.05" y1="921.77" x2="237.39" y2="926.78" stroke-width="0.9"/>
<line x1="237.00" y1="930.00" x2="224.96" y2="923.05" stroke-width="0.9"/>
<line x1="224.96" y1="923.05" x2="224.96" y2="909.15" stroke-width="0.9"/>
<line x1="227.56" y1="921.10" x2="227.56" y2="911.10" stroke-width="0.9"/>
<line x1="224.96" y1="909.15" x2="237.00" y2="902.20" stroke-width="0.9"/>
<line x1="224.96" y1="909.15" x2="216.91" y2="904.65" stroke-width="0.9"/>
<line x1="224.96" y1="923.05" x2="216.90" y2="927.63" stroke-width="0.9"/>
<line x1="237.00" y1="930.00" x2="237.00" y2="939.80" stroke-width="0.9"/>
<line x1="249.04" y1="909.15" x2="261.10" y2="902.40" stroke-width="0.9"/>
<line x1="262.60" y1="902.40" x2="262.60" y2="893.20" stroke-width="0.9"/>
<line x1="259.60" y1="902.40" x2="259.60" y2="893.20" stroke-width="0.9"/>
<line x1="261.10" y1="902.40" x2="269.04" y2="907.07" stroke-width="0.9"/>
<line x1="277.05" y1="907.21" x2="285.66" y2="902.55" stroke-width="0.9"/>
<line x1="297.70" y1="881.70" x2="309.74" y2="888.65" stroke-width="0.9"/>
<line x1="309.74" y1="888.65" x2="309.74" y2="902.55" stroke-width="0.9"/>
<line x1="307.14" y1="890.60" x2="307.14" y2="900.60" stroke-width="0.9"/>
<line x1="309.74" y1="902.55" x2="297.70" y2="909.50" stroke-width="0.9"/>
<line x1="297.70" y1="909.50" x2="285.66" y2="902.55" stroke-width="0.9"/>
<line x1="297.31" y1="906.28" x2="288.65" y2="901.27" stroke-width="0.9"/>
<line x1="285.66" y1="902.55" x2="285.66" y2="888.65" stroke-width="0.9"/>
<line x1="285.66" y1="888.65" x2="297.70" y2="881.70" stroke-width="0.9"/>
<line x1="288.65" y1="889.93" x2="297.31" y2="884.92" stroke-width="0.9"/>
<line x1="297.70" y1="881.70" x2="297.90" y2="872.60" stroke-width="0.9"/>
<line x1="379.50" y1="877.50" x2="391.62" y2="884.50" stroke-width="0.9"/>
<line x1="391.62" y1="884.50" x2="391.62" y2="898.50" stroke-width="0.9"/>
<line x1="389.02" y1="886.46" x2="389.02" y2="896.54" stroke-width="0.9"/>
<line x1="391.62" y1="898.50" x2="379.50" y2="905.50" stroke-width="0.9"/>
<line x1="379.50" y1="905.50" x2="367.38" y2="898.50" stroke-width="0.9"/>
<line x1="379.10" y1="902.27" x2="370.37" y2="897.23" stroke-width="0.9"/>
<line x1="367.38" y1="898.50" x2="367.38" y2="884.50" stroke-width="0.9"/>
<line x1="367.38" y1="884.50" x2="379.50" y2="877.50" stroke-width="0.9"/>
<line x1="370.37" y1="885.77" x2="379.10" y2="880.73" stroke-width="0.9"/>
<line x1="379.50" y1="877.50" x2="379.39" y2="870.40" stroke-width="0.9"/>
<line x1="367.38" y1="884.50" x2="358.90" y2="880.60" stroke-width="0.9"/>
<line x1="367.38" y1="898.50" x2="358.50" y2="903.30" stroke-width="0.9"/>
<line x1="379.50" y1="905.50" x2="379.37" y2="914.80" stroke-width="0.9"/>
<line x1="391.62" y1="884.50" x2="403.70" y2="877.50" stroke-width="0.9"/>
<line x1="405.20" y1="877.50" x2="405.20" y2="868.30" stroke-width="0.9"/>
<line x1="402.20" y1="877.50" x2="402.20" y2="868.30" stroke-width="0.9"/>
<line x1="403.70" y1="877.50" x2="412.16" y2="882.62" stroke-width="0.9"/>
<line x1="420.00" y1="882.56" x2="428.10" y2="877.50" stroke-width="0.9"/>
<line x1="428.10" y1="877.50" x2="440.58" y2="884.50" stroke-width="0.9"/>
<line x1="452.70" y1="877.50" x2="464.82" y2="884.50" stroke-width="0.9"/>
<line x1="453.10" y1="880.73" x2="461.83" y2="885.77" stroke-width="0.9"/>
<line x1="464.82" y1="884.50" x2="464.82" y2="898.50" stroke-width="0.9"/>
<line x1="464.82" y1="898.50" x2="452.70" y2="905.50" stroke-width="0.9"/>
<line x1="461.83" y1="897.23" x2="453.10" y2="902.27" stroke-width="0.9"/>
<line x1="452.70" y1="905.50" x2="440.58" y2="898.50" stroke-width="0.9"/>
<line x1="440.58" y1="898.50" x2="440.58" y2="884.50" stroke-width="0.9"/>
<line x1="443.18" y1="896.54" x2="443.18" y2="886.46" stroke-width="0.9"/>
<line x1="440.58" y1="884.50" x2="452.70" y2="877.50" stroke-width="0.9"/>
<line x1="464.82" y1="898.50" x2="473.41" y2="903.94" stroke-width="0.9"/>
<line x1="571.60" y1="887.80" x2="583.55" y2="894.70" stroke-width="0.9"/>
<line x1="571.97" y1="891.02" x2="580.58" y2="895.99" stroke-width="0.9"/>
<line x1="583.55" y1="894.70" x2="583.55" y2="908.50" stroke-width="0.9"/>
<line x1="583.55" y1="908.50" x2="571.60" y2="915.40" stroke-width="0.9"/>
<line x1="580.58" y1="907.21" x2="571.97" y2="912.18" stroke-width="0.9"/>
<line x1="571.60" y1="915.40" x2="559.65" y2="908.50" stroke-width="0.9"/>
<line x1="559.65" y1="908.50" x2="559.65" y2="894.70" stroke-width="0.9"/>
<line x1="562.25" y1="906.57" x2="562.25" y2="896.63" stroke-width="0.9"/>
<line x1="559.65" y1="894.70" x2="571.60" y2="887.80" stroke-width="0.9"/>
<line x1="559.65" y1="894.70" x2="552.97" y2="890.39" stroke-width="0.9"/>
<line x1="583.55" y1="908.50" x2="595.70" y2="914.50" stroke-width="0.9"/>
<line x1="594.20" y1="914.50" x2="594.20" y2="924.20" stroke-width="0.9"/>
<line x1="597.20" y1="914.50" x2="597.20" y2="924.20" stroke-width="0.9"/>
<line x1="595.70" y1="914.50" x2="603.71" y2="910.89" stroke-width="0.9"/>
<line x1="621.10" y1="930.20" x2="640.20" y2="930.20" stroke-width="0.9"/>
<line x1="640.20" y1="930.20" x2="646.60" y2="918.00" stroke-width="0.9"/>
<line x1="646.60" y1="918.00" x2="636.16" y2="913.55" stroke-width="0.9"/>
<line x1="621.10" y1="930.20" x2="616.80" y2="919.00" stroke-width="0.9"/>
<line x1="621.10" y1="930.20" x2="620.80" y2="912.70" stroke-width="0.9"/>
<line x1="620.80" y1="912.70" x2="612.32" y2="910.27" stroke-width="0.9"/>
<line x1="616.80" y1="919.00" x2="619.50" y2="917.76" stroke-width="0.9"/>
<line x1="623.30" y1="916.02" x2="628.48" y2="913.65" stroke-width="0.9"/>
<line x1="621.10" y1="930.20" x2="620.95" y2="944.30" stroke-width="0.9"/>
<line x1="640.20" y1="930.20" x2="640.20" y2="944.50" stroke-width="0.9"/>
<line x1="659.15" y1="887.06" x2="651.20" y2="891.80" stroke-width="0.9"/>
<line x1="651.20" y1="891.80" x2="645.40" y2="885.33" stroke-width="0.9"/>
<line x1="638.50" y1="883.10" x2="629.40" y2="885.10" stroke-width="0.9"/>
<line x1="629.40" y1="885.10" x2="617.20" y2="882.60" stroke-width="0.9"/>
<line x1="629.40" y1="885.10" x2="623.00" y2="872.20" stroke-width="0.9"/>
<polygon points="651.20,891.80 638.53,888.32 638.07,891.28" fill="#0a0a0a" stroke-width="0.4"/>
<line x1="638.30" y1="889.80" x2="623.40" y2="893.20" stroke-width="2.4"/>
<polygon points="617.20,882.60 622.11,893.96 624.69,892.44" fill="#0a0a0a" stroke-width="0.4"/>
<line x1="623.00" y1="872.20" x2="614.15" y2="870.95" stroke-width="0.9"/>
<line x1="617.20" y1="882.60" x2="607.43" y2="884.31" stroke-width="0.9"/>
<line x1="623.40" y1="893.20" x2="615.35" y2="894.41" stroke-width="0.9"/>
<line x1="638.30" y1="889.80" x2="643.29" y2="897.02" stroke-width="0.9"/>
<line x1="646.09" y1="905.40" x2="646.60" y2="918.00" stroke-width="0.9"/>
<line x1="667.20" y1="886.79" x2="674.94" y2="890.75" stroke-width="0.9"/>
<line x1="686.80" y1="883.90" x2="698.66" y2="890.75" stroke-width="0.9"/>
<line x1="687.16" y1="887.11" x2="695.70" y2="892.04" stroke-width="0.9"/>
<line x1="698.66" y1="890.75" x2="698.66" y2="904.45" stroke-width="0.9"/>
<line x1="698.66" y1="904.45" x2="686.80" y2="911.30" stroke-width="0.9"/>
<line x1="695.70" y1="903.16" x2="687.16" y2="908.09" stroke-width="0.9"/>
<line x1="686.80" y1="911.30" x2="674.94" y2="904.45" stroke-width="0.9"/>
<line x1="674.94" y1="904.45" x2="674.94" y2="890.75" stroke-width="0.9"/>
<line x1="677.54" y1="902.53" x2="677.54" y2="892.67" stroke-width="0.9"/>
<line x1="674.94" y1="890.75" x2="686.80" y2="883.90" stroke-width="0.9"/>
<line x1="698.66" y1="904.45" x2="710.90" y2="911.30" stroke-width="0.9"/>
<line x1="710.90" y1="911.30" x2="717.83" y2="907.23" stroke-width="0.9"/>
</g>
</svg>
</body></html>
